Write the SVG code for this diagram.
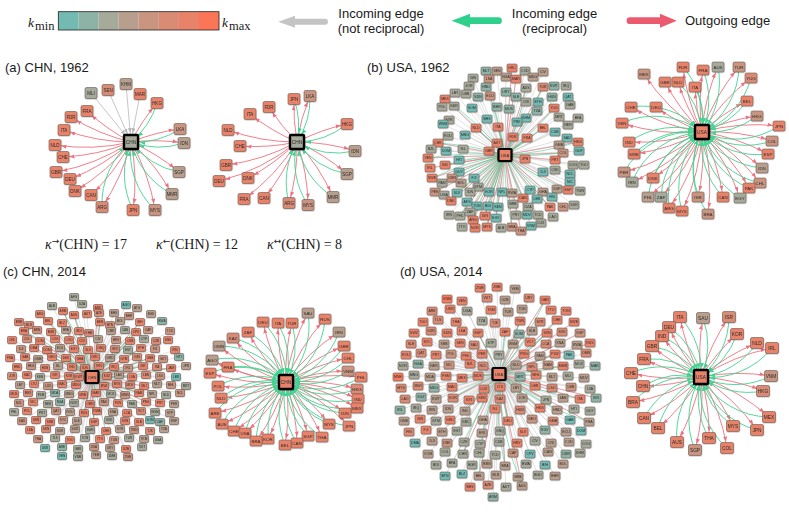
<svg xmlns="http://www.w3.org/2000/svg" width="789" height="524" viewBox="0 0 789 524">
<defs>
<style>
.sans{font-family:"Liberation Sans",Arial,sans-serif;fill:#1a1a1a;font-size:13px}
.math{font-family:"Liberation Serif","DejaVu Serif",serif;fill:#1a1a1a}
.arr{font-family:"DejaVu Sans","Noto Sans",sans-serif;font-size:9px}
.n rect{stroke:#5e4d47;stroke-width:.5px}
.n text{font-family:"Liberation Sans",Arial,sans-serif;text-anchor:middle;dominant-baseline:central;fill:#2a2a2a}
.S rect{x:-6px;y:-5.5px;width:12px;height:11px;rx:1.6px}
.S text{font-size:4.5px}
.M rect{x:-6px;y:-5px;width:12px;height:10px;rx:1.5px}
.M text{font-size:4.4px}
.L rect{x:-6.5px;y:-5.5px;width:13px;height:11px;rx:1.6px}
.L text{font-size:4.8px}
.H rect{x:-5px;y:-4px;width:10px;height:8px;rx:1.2px}
.H text{font-size:3.5px}
.T rect{x:-4.5px;y:-3.5px;width:9px;height:7px;rx:1px}
.T text{font-size:3.1px}
.n .C rect{x:-7px;y:-7px;width:14px;height:14px;rx:1px;stroke:#000;stroke-width:2.4px}
.n .C text{font-size:4.8px}
.H .C rect,.T .C rect{x:-6.5px;y:-6px;width:13px;height:12px;stroke-width:2.2px}
.H .C text,.T .C text{font-size:4px}
.k1 rect{fill:#72bab2}.k2 rect{fill:#8db3a6}.k3 rect{fill:#a6aa9a}.k4 rect{fill:#b89f8d}
.k5 rect{fill:#c99581}.k6 rect{fill:#d98b74}.k7 rect{fill:#e8836a}.k8 rect{fill:#f77a5a}
.ex{fill:none;stroke:#c0c0c0;stroke-width:.9px;marker-end:url(#mx)}
.ep{fill:none;stroke:#f0707f;stroke-width:.9px;marker-end:url(#mp)}
.eg{fill:none;stroke:#3fd492;stroke-width:.9px;marker-end:url(#mg)}
.hx{fill:none;stroke:#c2c2c2;stroke-width:.5px}
.hp{fill:none;stroke:#f27886;stroke-width:.6px}
.hg{fill:none;stroke:#40d293;stroke-width:.6px}
</style>
<marker id="mp" markerUnits="userSpaceOnUse" markerWidth="6" markerHeight="5" refX="11.5" refY="2" orient="auto"><path d="M0 0L5 2L0 4z" fill="#f0707f"/></marker>
<marker id="mg" markerUnits="userSpaceOnUse" markerWidth="6" markerHeight="5" refX="14" refY="2" orient="auto"><path d="M0 0L5 2L0 4z" fill="#3fd492"/></marker>
<marker id="mx" markerUnits="userSpaceOnUse" markerWidth="6" markerHeight="5" refX="14" refY="2" orient="auto"><path d="M0 0L5 2L0 4z" fill="#b8b8b8"/></marker>
<filter id="sh" x="-5%" y="-5%" width="110%" height="110%"><feDropShadow dx="0.3" dy="0.5" stdDeviation="0.5" flood-color="#000" flood-opacity="0.35"/></filter>
</defs>
<rect width="789" height="524" fill="#fff"/>

<g id="legend">
<text class="math" x="28" y="27.3" font-size="13.5" font-style="italic">k</text>
<text class="math" x="35" y="29.5" font-size="12.5">min</text>
<rect x="58.3" y="11.7" width="20.1" height="18.3" fill="#72bab2"/>
<rect x="78.4" y="11.7" width="20.1" height="18.3" fill="#8db3a6"/>
<rect x="98.5" y="11.7" width="20.1" height="18.3" fill="#a6aa9a"/>
<rect x="118.6" y="11.7" width="20.1" height="18.3" fill="#b89f8d"/>
<rect x="138.7" y="11.7" width="20.1" height="18.3" fill="#c99581"/>
<rect x="158.8" y="11.7" width="20.1" height="18.3" fill="#d98b74"/>
<rect x="178.9" y="11.7" width="20.1" height="18.3" fill="#e8836a"/>
<rect x="199" y="11.7" width="20" height="18.3" fill="#fb7656"/>
<rect x="58.3" y="11.7" width="160.7" height="18.3" fill="none" stroke="#222" stroke-width="0.8"/>
<text class="math" x="222" y="27.3" font-size="13.5" font-style="italic">k</text>
<text class="math" x="229" y="29.5" font-size="12.5">max</text>
<path d="M278.3 21.7L295 15.7V18.7H325A3 3 0 0 1 325 24.7H295V27.7Z" fill="#c4c4c4"/>
<text class="sans" x="381" y="17.5" text-anchor="middle">Incoming edge</text>
<text class="sans" x="381" y="32.5" text-anchor="middle">(not reciprocal)</text>
<path d="M451.7 20.7L470 13.7V17.3H498.5A3.4 3.4 0 0 1 498.5 24.1H470V27.7Z" fill="#2fcf8c"/>
<text class="sans" x="554.5" y="17.5" text-anchor="middle">Incoming edge</text>
<text class="sans" x="554.5" y="32.5" text-anchor="middle">(reciprocal)</text>
<path d="M676.7 20.7L660 13.7V17.3H630A3.4 3.4 0 0 0 630 24.1H660V27.7Z" fill="#ea5b70"/>
<text class="sans" x="685" y="25">Outgoing edge</text>
</g>

<g id="titles">
<text class="sans" x="5" y="72">(a) CHN, 1962</text>
<text class="sans" x="367" y="72">(b) USA, 1962</text>
<text class="sans" x="3" y="276">(c) CHN, 2014</text>
<text class="sans" x="400" y="276">(d) USA, 2014</text>
<text class="math" x="45" y="249" font-size="14"><tspan font-style="italic">κ</tspan><tspan class="arr" dy="-5.5">→</tspan><tspan dy="5.5">(CHN) = 17</tspan></text>
<text class="math" x="156" y="249" font-size="14"><tspan font-style="italic">κ</tspan><tspan class="arr" dy="-5.5">←</tspan><tspan dy="5.5">(CHN) = 12</tspan></text>
<text class="math" x="267" y="249" font-size="14"><tspan font-style="italic">κ</tspan><tspan class="arr" dy="-5.5">↔</tspan><tspan dy="5.5">(CHN) = 8</tspan></text>
</g>

<g id="connectors">
<g id="e-aL">
<path class="ex" d="M91 93L131 142"/><path class="ex" d="M108 90L131 142"/><path class="ex" d="M126 84L131 142"/><path class="ex" d="M140 94L131 142"/>
<path class="ep" d="M131 142A200 200 0 0 1 87 111"/><path class="ep" d="M131 142A200 200 0 0 1 71 117"/><path class="ep" d="M131 142A200 200 0 0 1 64 130"/><path class="ep" d="M131 142A200 200 0 0 1 55 145"/><path class="ep" d="M131 142A200 200 0 0 1 63 157"/><path class="ep" d="M131 142A200 200 0 0 1 56 172"/><path class="ep" d="M131 142A200 200 0 0 1 70 179"/><path class="ep" d="M131 142A200 200 0 0 1 75 191"/><path class="ep" d="M131 142A200 200 0 0 1 91 195"/><path class="ep" d="M131 142A200 200 0 0 1 102 207"/><path class="ep" d="M131 142A200 200 0 0 1 133 210"/><path class="ep" d="M131 142A200 200 0 0 1 155 210"/><path class="ep" d="M131 142A200 200 0 0 1 172 194"/><path class="ep" d="M131 142A200 200 0 0 1 179 172"/><path class="ep" d="M131 142A200 200 0 0 1 184 143"/><path class="ep" d="M131 142A200 200 0 0 1 180 129"/><path class="ep" d="M131 142A200 200 0 0 1 157 103"/>
<path class="eg" d="M157 103A80 80 0 0 1 131 142"/><path class="eg" d="M180 129A80 80 0 0 1 131 142"/><path class="eg" d="M184 143A80 80 0 0 1 131 142"/><path class="eg" d="M179 172A80 80 0 0 1 131 142"/><path class="eg" d="M172 194A80 80 0 0 1 131 142"/><path class="eg" d="M155 210A80 80 0 0 1 131 142"/><path class="eg" d="M133 210A80 80 0 0 1 131 142"/><path class="eg" d="M102 207A80 80 0 0 1 131 142"/>
</g>
<g id="e-aR">
<path class="ep" d="M297 142A200 200 0 0 1 294 99"/><path class="ep" d="M297 142A200 200 0 0 1 310 96"/><path class="ep" d="M297 142A200 200 0 0 1 269 107"/><path class="ep" d="M297 142A200 200 0 0 1 250 114"/><path class="ep" d="M297 142A200 200 0 0 1 347 124"/><path class="ep" d="M297 142A200 200 0 0 1 228 130"/><path class="ep" d="M297 142A200 200 0 0 1 240 146"/><path class="ep" d="M297 142A200 200 0 0 1 355 151"/><path class="ep" d="M297 142A200 200 0 0 1 226 165"/><path class="ep" d="M297 142A200 200 0 0 1 248 178"/><path class="ep" d="M297 142A200 200 0 0 1 219 181"/><path class="ep" d="M297 142A200 200 0 0 1 347 174"/><path class="ep" d="M297 142A200 200 0 0 1 244 199"/><path class="ep" d="M297 142A200 200 0 0 1 264 198"/><path class="ep" d="M297 142A200 200 0 0 1 289 203"/><path class="ep" d="M297 142A200 200 0 0 1 308 205"/><path class="ep" d="M297 142A200 200 0 0 1 333 197"/>
<path class="eg" d="M294 99A80 80 0 0 1 297 142"/><path class="eg" d="M310 96A80 80 0 0 1 297 142"/><path class="eg" d="M347 124A80 80 0 0 1 297 142"/><path class="eg" d="M355 151A80 80 0 0 1 297 142"/><path class="eg" d="M347 174A80 80 0 0 1 297 142"/><path class="eg" d="M333 197A80 80 0 0 1 297 142"/><path class="eg" d="M308 205A80 80 0 0 1 297 142"/><path class="eg" d="M289 203A80 80 0 0 1 297 142"/>
</g>
<g id="e-bR">
<path class="ep" d="M702 132A200 200 0 0 1 683 67"/><path class="ep" d="M702 132A200 200 0 0 1 703 70"/><path class="ep" d="M702 132A200 200 0 0 1 718 67"/><path class="ep" d="M702 132A200 200 0 0 1 739 67"/><path class="ep" d="M702 132A200 200 0 0 1 644 74"/><path class="ep" d="M702 132A200 200 0 0 1 751 78"/><path class="ep" d="M702 132A200 200 0 0 1 665 82"/><path class="ep" d="M702 132A200 200 0 0 1 678 82"/><path class="ep" d="M702 132A200 200 0 0 1 695 87"/><path class="ep" d="M702 132A200 200 0 0 1 747 101"/><path class="ep" d="M702 132A200 200 0 0 1 631 107"/><path class="ep" d="M702 132A200 200 0 0 1 656 107"/><path class="ep" d="M702 132A200 200 0 0 1 757 116"/><path class="ep" d="M702 132A200 200 0 0 1 622 123"/><path class="ep" d="M702 132A200 200 0 0 1 779 126"/><path class="ep" d="M702 132A200 200 0 0 1 772 141"/><path class="ep" d="M702 132A200 200 0 0 1 629 142"/><path class="ep" d="M702 132A200 200 0 0 1 634 154"/><path class="ep" d="M702 132A200 200 0 0 1 768 154"/><path class="ep" d="M702 132A200 200 0 0 1 762 168"/><path class="ep" d="M702 132A200 200 0 0 1 624 172"/><path class="ep" d="M702 132A200 200 0 0 1 653 178"/><path class="ep" d="M702 132A200 200 0 0 1 632 182"/><path class="ep" d="M702 132A200 200 0 0 1 760 183"/><path class="ep" d="M702 132A200 200 0 0 1 749 188"/><path class="ep" d="M702 132A200 200 0 0 1 648 197"/><path class="ep" d="M702 132A200 200 0 0 1 661 197"/><path class="ep" d="M702 132A200 200 0 0 1 698 197"/><path class="ep" d="M702 132A200 200 0 0 1 723 197"/><path class="ep" d="M702 132A200 200 0 0 1 740 198"/><path class="ep" d="M702 132A200 200 0 0 1 669 208"/><path class="ep" d="M702 132A200 200 0 0 1 682 211"/><path class="ep" d="M702 132A200 200 0 0 1 708 214"/>
<path class="eg" d="M683 67A80 80 0 0 1 702 132"/><path class="eg" d="M703 70A80 80 0 0 1 702 132"/><path class="eg" d="M718 67A80 80 0 0 1 702 132"/><path class="eg" d="M739 67A80 80 0 0 1 702 132"/><path class="eg" d="M751 78A80 80 0 0 1 702 132"/><path class="eg" d="M678 82A80 80 0 0 1 702 132"/><path class="eg" d="M695 87A80 80 0 0 1 702 132"/><path class="eg" d="M747 101A80 80 0 0 1 702 132"/><path class="eg" d="M631 107A80 80 0 0 1 702 132"/><path class="eg" d="M757 116A80 80 0 0 1 702 132"/><path class="eg" d="M622 123A80 80 0 0 1 702 132"/><path class="eg" d="M779 126A80 80 0 0 1 702 132"/><path class="eg" d="M772 141A80 80 0 0 1 702 132"/><path class="eg" d="M629 142A80 80 0 0 1 702 132"/><path class="eg" d="M634 154A80 80 0 0 1 702 132"/><path class="eg" d="M768 154A80 80 0 0 1 702 132"/><path class="eg" d="M762 168A80 80 0 0 1 702 132"/><path class="eg" d="M624 172A80 80 0 0 1 702 132"/><path class="eg" d="M653 178A80 80 0 0 1 702 132"/><path class="eg" d="M632 182A80 80 0 0 1 702 132"/><path class="eg" d="M760 183A80 80 0 0 1 702 132"/><path class="eg" d="M749 188A80 80 0 0 1 702 132"/><path class="eg" d="M648 197A80 80 0 0 1 702 132"/><path class="eg" d="M661 197A80 80 0 0 1 702 132"/><path class="eg" d="M698 197A80 80 0 0 1 702 132"/><path class="eg" d="M723 197A80 80 0 0 1 702 132"/><path class="eg" d="M740 198A80 80 0 0 1 702 132"/><path class="eg" d="M669 208A80 80 0 0 1 702 132"/><path class="eg" d="M682 211A80 80 0 0 1 702 132"/><path class="eg" d="M708 214A80 80 0 0 1 702 132"/>
</g>
<g id="e-cR">
<path class="ep" d="M286 382A200 200 0 0 1 308 313"/><path class="ep" d="M286 382A200 200 0 0 1 263 322"/><path class="ep" d="M286 382A200 200 0 0 1 278 323"/><path class="ep" d="M286 382A200 200 0 0 1 292 323"/><path class="ep" d="M286 382A200 200 0 0 1 325 319"/><path class="ep" d="M286 382A200 200 0 0 1 248 332"/><path class="ep" d="M286 382A200 200 0 0 1 339 332"/><path class="ep" d="M286 382A200 200 0 0 1 233 338"/><path class="ep" d="M286 382A200 200 0 0 1 219 346"/><path class="ep" d="M286 382A200 200 0 0 1 344 346"/><path class="ep" d="M286 382A200 200 0 0 1 212 360"/><path class="ep" d="M286 382A200 200 0 0 1 228 367"/><path class="ep" d="M286 382A200 200 0 0 1 348 358"/><path class="ep" d="M286 382A200 200 0 0 1 210 373"/><path class="ep" d="M286 382A200 200 0 0 1 348 371"/><path class="ep" d="M286 382A200 200 0 0 1 361 377"/><path class="ep" d="M286 382A200 200 0 0 1 218 386"/><path class="ep" d="M286 382A200 200 0 0 1 357 389"/><path class="ep" d="M286 382A200 200 0 0 1 221 398"/><path class="ep" d="M286 382A200 200 0 0 1 358 399"/><path class="ep" d="M286 382A200 200 0 0 1 357 408"/><path class="ep" d="M286 382A200 200 0 0 1 215 413"/><path class="ep" d="M286 382A200 200 0 0 1 345 413"/><path class="ep" d="M286 382A200 200 0 0 1 222 424"/><path class="ep" d="M286 382A200 200 0 0 1 329 424"/><path class="ep" d="M286 382A200 200 0 0 1 349 426"/><path class="ep" d="M286 382A200 200 0 0 1 234 431"/><path class="ep" d="M286 382A200 200 0 0 1 245 433"/><path class="ep" d="M286 382A200 200 0 0 1 322 437"/><path class="ep" d="M286 382A200 200 0 0 1 268 439"/><path class="ep" d="M286 382A200 200 0 0 1 256 441"/><path class="ep" d="M286 382A200 200 0 0 1 308 436"/><path class="ep" d="M286 382A200 200 0 0 1 297 443"/><path class="ep" d="M286 382A200 200 0 0 1 285 445"/>
<path class="eg" d="M308 313A80 80 0 0 1 286 382"/><path class="eg" d="M263 322A80 80 0 0 1 286 382"/><path class="eg" d="M278 323A80 80 0 0 1 286 382"/><path class="eg" d="M292 323A80 80 0 0 1 286 382"/><path class="eg" d="M325 319A80 80 0 0 1 286 382"/><path class="eg" d="M248 332A80 80 0 0 1 286 382"/><path class="eg" d="M339 332A80 80 0 0 1 286 382"/><path class="eg" d="M233 338A80 80 0 0 1 286 382"/><path class="eg" d="M219 346A80 80 0 0 1 286 382"/><path class="eg" d="M344 346A80 80 0 0 1 286 382"/><path class="eg" d="M212 360A80 80 0 0 1 286 382"/><path class="eg" d="M228 367A80 80 0 0 1 286 382"/><path class="eg" d="M348 358A80 80 0 0 1 286 382"/><path class="eg" d="M210 373A80 80 0 0 1 286 382"/><path class="eg" d="M348 371A80 80 0 0 1 286 382"/><path class="eg" d="M361 377A80 80 0 0 1 286 382"/><path class="eg" d="M218 386A80 80 0 0 1 286 382"/><path class="eg" d="M357 389A80 80 0 0 1 286 382"/><path class="eg" d="M221 398A80 80 0 0 1 286 382"/><path class="eg" d="M358 399A80 80 0 0 1 286 382"/><path class="eg" d="M357 408A80 80 0 0 1 286 382"/><path class="eg" d="M215 413A80 80 0 0 1 286 382"/><path class="eg" d="M345 413A80 80 0 0 1 286 382"/><path class="eg" d="M222 424A80 80 0 0 1 286 382"/><path class="eg" d="M329 424A80 80 0 0 1 286 382"/><path class="eg" d="M349 426A80 80 0 0 1 286 382"/><path class="eg" d="M234 431A80 80 0 0 1 286 382"/><path class="eg" d="M245 433A80 80 0 0 1 286 382"/><path class="eg" d="M322 437A80 80 0 0 1 286 382"/><path class="eg" d="M268 439A80 80 0 0 1 286 382"/><path class="eg" d="M256 441A80 80 0 0 1 286 382"/><path class="eg" d="M308 436A80 80 0 0 1 286 382"/><path class="eg" d="M297 443A80 80 0 0 1 286 382"/><path class="eg" d="M285 445A80 80 0 0 1 286 382"/>
</g>
<g id="e-dR">
<path class="ep" d="M701 377A200 200 0 0 1 680 317"/><path class="ep" d="M701 377A200 200 0 0 1 703 318"/><path class="ep" d="M701 377A200 200 0 0 1 729 317"/><path class="ep" d="M701 377A200 200 0 0 1 669 327"/><path class="ep" d="M701 377A200 200 0 0 1 662 336"/><path class="ep" d="M701 377A200 200 0 0 1 737 334"/><path class="ep" d="M701 377A200 200 0 0 1 757 343"/><path class="ep" d="M701 377A200 200 0 0 1 652 346"/><path class="ep" d="M701 377A200 200 0 0 1 772 348"/><path class="ep" d="M701 377A200 200 0 0 1 644 359"/><path class="ep" d="M701 377A200 200 0 0 1 631 373"/><path class="ep" d="M701 377A200 200 0 0 1 771 376"/><path class="ep" d="M701 377A200 200 0 0 1 643 386"/><path class="ep" d="M701 377A200 200 0 0 1 763 391"/><path class="ep" d="M701 377A200 200 0 0 1 633 402"/><path class="ep" d="M701 377A200 200 0 0 1 769 417"/><path class="ep" d="M701 377A200 200 0 0 1 644 418"/><path class="ep" d="M701 377A200 200 0 0 1 658 428"/><path class="ep" d="M701 377A200 200 0 0 1 733 426"/><path class="ep" d="M701 377A200 200 0 0 1 757 430"/><path class="ep" d="M701 377A200 200 0 0 1 677 442"/><path class="ep" d="M701 377A200 200 0 0 1 709 438"/><path class="ep" d="M701 377A200 200 0 0 1 695 450"/><path class="ep" d="M701 377A200 200 0 0 1 727 448"/>
<path class="eg" d="M680 317A80 80 0 0 1 701 377"/><path class="eg" d="M703 318A80 80 0 0 1 701 377"/><path class="eg" d="M729 317A80 80 0 0 1 701 377"/><path class="eg" d="M669 327A80 80 0 0 1 701 377"/><path class="eg" d="M662 336A80 80 0 0 1 701 377"/><path class="eg" d="M737 334A80 80 0 0 1 701 377"/><path class="eg" d="M757 343A80 80 0 0 1 701 377"/><path class="eg" d="M652 346A80 80 0 0 1 701 377"/><path class="eg" d="M772 348A80 80 0 0 1 701 377"/><path class="eg" d="M644 359A80 80 0 0 1 701 377"/><path class="eg" d="M631 373A80 80 0 0 1 701 377"/><path class="eg" d="M771 376A80 80 0 0 1 701 377"/><path class="eg" d="M643 386A80 80 0 0 1 701 377"/><path class="eg" d="M763 391A80 80 0 0 1 701 377"/><path class="eg" d="M633 402A80 80 0 0 1 701 377"/><path class="eg" d="M769 417A80 80 0 0 1 701 377"/><path class="eg" d="M644 418A80 80 0 0 1 701 377"/><path class="eg" d="M658 428A80 80 0 0 1 701 377"/><path class="eg" d="M733 426A80 80 0 0 1 701 377"/><path class="eg" d="M757 430A80 80 0 0 1 701 377"/><path class="eg" d="M677 442A80 80 0 0 1 701 377"/><path class="eg" d="M709 438A80 80 0 0 1 701 377"/><path class="eg" d="M695 450A80 80 0 0 1 701 377"/><path class="eg" d="M727 448A80 80 0 0 1 701 377"/>
</g>
<g id="e-bL">
<path class="hx" d="M486 71L505 155M497 71L505 155M512 68L505 155M525 71L505 155M543 72L505 155M473 78L505 155M489 79L505 155M506 77L505 155M516 79L505 155M533 77L505 155M469 86L505 155M486 87L505 155M466 94L505 155M478 97L505 155M490 96L505 155M526 88L505 155M543 87L505 155M554 86L505 155M566 86L505 155M455 93L505 155M506 92L505 155M516 97L505 155M552 97L505 155M568 97L505 155M445 99L505 155M442 107L505 155M454 106L505 155M526 102L505 155M538 102L505 155M570 105L505 155M472 108L505 155M497 107L505 155M509 109L505 155M554 108L505 155M537 111L505 155M526 118L505 155M559 117L505 155M578 118L505 155M449 120L505 155M517 122L505 155M487 119L505 155M568 125L505 155M443 124L505 155M498 127L505 155M476 128L505 155M543 128L505 155M555 132L505 155M465 135L505 155M448 136L505 155M513 137L505 155M527 138L505 155M567 138L505 155M578 142L505 155M438 143L505 155M497 143L505 155M559 145L505 155M431 149L505 155M446 151L505 155M463 149L505 155M579 151L505 155M489 151L505 155M563 153L505 155M428 158L505 155M459 160L505 155M525 159L505 155M555 160L505 155M430 168L505 155M445 165L505 155M573 165L505 155M584 165L505 155M459 172L505 155M543 172L505 155M555 170L505 155M570 174L505 155M432 178L505 155M442 183L505 155M452 178L505 155M461 183L505 155M474 178L505 155M478 187L505 155M570 182L505 155M435 192L505 155M444 195L505 155M457 193L505 155M470 192L505 155M489 192L505 155M502 192L505 155M512 193L505 155M530 190L505 155M543 192L505 155M557 189L505 155M568 190L505 155M580 191L505 155M451 201L505 155M467 202L505 155M477 206L505 155M488 206L505 155M498 207L505 155M513 204L505 155M523 198L505 155M537 199L505 155M552 197L505 155M528 207L505 155M550 207L505 155M563 207L505 155M574 205L505 155M449 215L505 155M460 216L505 155M470 212L505 155M473 220L505 155M485 216L505 155M496 218L505 155M516 215L505 155M527 215L505 155M538 215L505 155M553 217L505 155M541 223L505 155M462 227L505 155M475 228L505 155M487 227L505 155M501 228L505 155M512 227L505 155M521 231L505 155M531 226L505 155"/>
<path class="hp" d="M505 155L512 68M505 155L516 79M505 155L543 87M505 155L445 99M505 155L554 108M505 155L498 127M505 155L476 128M505 155L543 128M505 155L513 137M505 155L527 138M505 155L578 142M505 155L438 143M505 155L497 143M505 155L489 151M505 155L428 158M505 155L525 159M505 155L555 160M505 155L430 168M505 155L445 165M505 155L432 178M505 155L451 201M505 155L523 198M505 155L550 207M505 155L568 190M505 155L473 220M505 155L485 216M505 155L475 228M505 155L487 227M505 155L435 192M505 155L563 207M505 155L563 153M505 155L521 231M505 155L512 227M505 155L526 88M505 155L470 212M505 155L496 218M505 155L460 216M505 155L470 192"/>
<path class="hg" d="M445 99A300 300 0 0 1 505 155M498 127A300 300 0 0 1 505 155M476 128A300 300 0 0 1 505 155M543 128A300 300 0 0 1 505 155M513 137A300 300 0 0 1 505 155M527 138A300 300 0 0 1 505 155M578 142A300 300 0 0 1 505 155M438 143A300 300 0 0 1 505 155M489 151A300 300 0 0 1 505 155M428 158A300 300 0 0 1 505 155M525 159A300 300 0 0 1 505 155M445 165A300 300 0 0 1 505 155M432 178A300 300 0 0 1 505 155M451 201A300 300 0 0 1 505 155M523 198A300 300 0 0 1 505 155M550 207A300 300 0 0 1 505 155M568 190A300 300 0 0 1 505 155M473 220A300 300 0 0 1 505 155M485 216A300 300 0 0 1 505 155M487 227A300 300 0 0 1 505 155M435 192A300 300 0 0 1 505 155M563 207A300 300 0 0 1 505 155M563 153A300 300 0 0 1 505 155M512 227A300 300 0 0 1 505 155M526 88A300 300 0 0 1 505 155M470 212A300 300 0 0 1 505 155M496 218A300 300 0 0 1 505 155M460 216A300 300 0 0 1 505 155M470 192A300 300 0 0 1 505 155M543 87A300 300 0 0 1 505 155M554 108A300 300 0 0 1 505 155M489 192A300 300 0 0 1 505 155M457 193A300 300 0 0 1 505 155M486 87A300 300 0 0 1 505 155M459 172A300 300 0 0 1 505 155"/>
</g>
<g id="e-cL">
<path class="hx" d="M74 297L92 377M52 306L92 377M82 304L92 377M98 308L92 377M126 305L92 377M137 308L92 377M40 314L92 377M63 311L92 377M74 315L92 377M87 314L92 377M99 313L92 377M114 313L92 377M129 316L92 377M151 314L92 377M19 322L92 377M29 325L92 377M48 321L92 377M62 323L92 377M100 322L92 377M110 325L92 377M120 321L92 377M140 322L92 377M162 321L92 377M24 331L92 377M37 330L92 377M51 332L92 377M66 330L92 377M79 331L92 377M89 333L92 377M111 331L92 377M125 330L92 377M136 332L92 377M148 330L92 377M170 331L92 377M12 340L92 377M27 339L92 377M40 341L92 377M55 339L92 377M69 340L92 377M82 341L92 377M98 339L92 377M116 340L92 377M130 341L92 377M144 339L92 377M156 341L92 377M168 340L92 377M21 349L92 377M34 348L92 377M47 350L92 377M60 348L92 377M74 349L92 377M88 350L92 377M101 348L92 377M115 349L92 377M128 350L92 377M141 348L92 377M155 349L92 377M175 350L92 377M10 358L92 377M25 357L92 377M38 359L92 377M52 357L92 377M66 358L92 377M80 359L92 377M95 357L92 377M110 358L92 377M124 359L92 377M137 357L92 377M150 358L92 377M163 359L92 377M179 357L92 377M17 367L92 377M31 366L92 377M45 368L92 377M58 366L92 377M72 367L92 377M85 368L92 377M99 366L92 377M114 367L92 377M128 368L92 377M143 366L92 377M157 367L92 377M171 368L92 377M186 366L92 377M12 376L92 377M27 375L92 377M40 377L92 377M55 375L92 377M69 376L92 377M79 377L92 377M107 376L92 377M119 375L92 377M132 377L92 377M146 375L92 377M160 376L92 377M176 377L92 377M20 385L92 377M34 384L92 377M48 386L92 377M62 384L92 377M76 385L92 377M104 386L92 377M117 384L92 377M130 385L92 377M144 386L92 377M157 384L92 377M171 385L92 377M186 386L92 377M14 394L92 377M28 393L92 377M41 395L92 377M55 393L92 377M69 394L92 377M83 395L92 377M96 393L92 377M111 394L92 377M125 395L92 377M139 393L92 377M152 394L92 377M166 395L92 377M180 393L92 377M19 403L92 377M33 402L92 377M48 404L92 377M60 402L92 377M74 403L92 377M90 404L92 377M104 402L92 377M118 403L92 377M132 404L92 377M146 402L92 377M160 403L92 377M174 404L92 377M14 412L92 377M27 411L92 377M42 413L92 377M56 411L92 377M70 412L92 377M84 413L92 377M97 411L92 377M113 412L92 377M127 413L92 377M141 411L92 377M155 412L92 377M170 413L92 377M22 421L92 377M36 420L92 377M50 422L92 377M63 420L92 377M77 421L92 377M94 422L92 377M109 420L92 377M125 421L92 377M139 422L92 377M150 420L92 377M160 422L92 377M174 421L92 377M30 430L92 377M46 429L92 377M60 431L92 377M75 429L92 377M90 430L92 377M106 431L92 377M120 429L92 377M134 430L92 377M150 431L92 377M164 429L92 377M38 439L92 377M55 438L92 377M70 440L92 377M85 438L92 377M100 439L92 377M114 440L92 377M129 438L92 377M144 439L92 377M158 440L92 377M45 448L92 377M62 447L92 377M78 449L92 377M94 447L92 377M110 448L92 377M126 449L92 377M142 447L92 377M62 456L92 377M78 457L92 377M96 455L92 377M112 456L92 377M128 457L92 377"/>
<path class="hp" d="M92 377L62 323M92 377L63 311M92 377L48 321M92 377L24 331M92 377L51 332M92 377L55 339M92 377L40 341M92 377L34 348M92 377L47 350M92 377L52 357M92 377L74 315M92 377L98 308M92 377L100 322M92 377L140 322M92 377L136 332M92 377L130 341M92 377L141 348M92 377L124 359M92 377L150 358M92 377L143 366M92 377L171 368M92 377L132 377M92 377L144 386M92 377L139 393M92 377L146 402M92 377L84 413M92 377L94 422M92 377L83 395M92 377L69 376M92 377L66 358M92 377L72 367M92 377L96 393M92 377L90 404"/>
<path class="hg" d="M62 323A300 300 0 0 1 92 377M63 311A300 300 0 0 1 92 377M48 321A300 300 0 0 1 92 377M24 331A300 300 0 0 1 92 377M55 339A300 300 0 0 1 92 377M47 350A300 300 0 0 1 92 377M52 357A300 300 0 0 1 92 377M74 315A300 300 0 0 1 92 377M100 322A300 300 0 0 1 92 377M140 322A300 300 0 0 1 92 377M136 332A300 300 0 0 1 92 377M141 348A300 300 0 0 1 92 377M150 358A300 300 0 0 1 92 377M143 366A300 300 0 0 1 92 377M171 368A300 300 0 0 1 92 377M132 377A300 300 0 0 1 92 377M139 393A300 300 0 0 1 92 377M130 341A300 300 0 0 1 92 377M84 413A300 300 0 0 1 92 377M94 422A300 300 0 0 1 92 377M69 376A300 300 0 0 1 92 377M72 367A300 300 0 0 1 92 377M96 393A300 300 0 0 1 92 377M66 358A300 300 0 0 1 92 377"/>
</g>
<g id="e-dL">
<path class="hx" d="M480 288L499 374M497 287L499 374M515 289L499 374M447 299L499 374M462 301L499 374M487 298L499 374M505 300L499 374M529 298L499 374M545 300L499 374M432 311L499 374M450 309L499 374M467 311L499 374M491 310L499 374M508 312L499 374M522 309L499 374M551 310L499 374M566 311L499 374M423 322L499 374M438 320L499 374M456 322L499 374M482 321L499 374M495 323L499 374M520 321L499 374M540 322L499 374M557 320L499 374M574 322L499 374M414 333L499 374M431 331L499 374M447 333L499 374M462 331L499 374M478 333L499 374M505 332L499 374M519 334L499 374M532 331L499 374M547 333L499 374M562 332L499 374M580 333L499 374M411 344L499 374M427 342L499 374M444 344L499 374M460 343L499 374M474 345L499 374M491 343L499 374M513 344L499 374M530 342L499 374M546 344L499 374M560 343L499 374M577 345L499 374M590 343L499 374M406 355L499 374M421 353L499 374M436 355L499 374M451 354L499 374M466 356L499 374M482 354L499 374M499 355L499 374M524 354L499 374M540 356L499 374M555 354L499 374M569 355L499 374M586 353L499 374M403 366L499 374M418 364L499 374M434 366L499 374M449 365L499 374M470 364L499 374M483 366L499 374M516 365L499 374M532 367L499 374M548 365L499 374M563 366L499 374M579 364L499 374M595 366L499 374M398 377L499 374M414 375L499 374M430 377L499 374M446 376L499 374M462 378L499 374M478 376L499 374M520 377L499 374M536 375L499 374M552 377L499 374M568 376L499 374M584 378L499 374M401 388L499 374M418 386L499 374M434 388L499 374M452 387L499 374M484 389L499 374M500 387L499 374M516 388L499 374M535 386L499 374M552 388L499 374M571 387L499 374M590 389L499 374M405 399L499 374M421 397L499 374M436 399L499 374M453 398L499 374M469 400L499 374M482 398L499 374M500 399L499 374M522 398L499 374M546 400L499 374M563 398L499 374M580 399L499 374M596 398L499 374M400 410L499 374M416 408L499 374M432 410L499 374M448 409L499 374M465 411L499 374M495 409L499 374M520 410L499 374M540 408L499 374M557 410L499 374M574 409L499 374M590 411L499 374M404 421L499 374M420 419L499 374M436 421L499 374M450 420L499 374M466 422L499 374M483 420L499 374M508 421L499 374M532 419L499 374M553 421L499 374M570 420L499 374M589 422L499 374M409 432L499 374M426 430L499 374M442 432L499 374M457 431L499 374M482 433L499 374M500 431L499 374M523 432L499 374M545 430L499 374M566 432L499 374M581 431L499 374M415 443L499 374M432 441L499 374M447 443L499 374M464 442L499 374M480 444L499 374M499 442L499 374M517 443L499 374M535 441L499 374M551 443L499 374M569 442L499 374M586 444L499 374M428 454L499 374M445 452L499 374M463 454L499 374M479 453L499 374M495 455L499 374M513 453L499 374M530 454L499 374M548 452L499 374M566 454L499 374M580 453L499 374M436 465L499 374M452 463L499 374M472 465L499 374M487 464L499 374M505 466L499 374M526 464L499 374M545 465L499 374M563 464L499 374M445 476L499 374M462 474L499 374M479 476L499 374M496 475L499 374M518 477L499 374M538 475L499 374M555 476L499 374M470 487L499 374M488 485L499 374M506 487L499 374M522 486L499 374M493 497L499 374"/>
<path class="hp" d="M499 374L545 300M499 374L557 320M499 374L574 322M499 374L547 333M499 374L590 343M499 374L555 354M499 374L563 366M499 374L580 399M499 374L596 398M499 374L540 408M499 374L508 421M499 374L546 400M499 374L453 398M499 374L462 378M499 374L516 365M499 374L589 422M499 374L465 411M499 374L580 333M499 374L463 454M499 374L505 466M499 374L479 476M499 374L522 486M499 374L520 321M499 374L478 333M499 374L466 356"/>
<path class="hg" d="M545 300A300 300 0 0 1 499 374M557 320A300 300 0 0 1 499 374M547 333A300 300 0 0 1 499 374M555 354A300 300 0 0 1 499 374M563 366A300 300 0 0 1 499 374M580 399A300 300 0 0 1 499 374M540 408A300 300 0 0 1 499 374M508 421A300 300 0 0 1 499 374M546 400A300 300 0 0 1 499 374M453 398A300 300 0 0 1 499 374M462 378A300 300 0 0 1 499 374M516 365A300 300 0 0 1 499 374M589 422A300 300 0 0 1 499 374M465 411A300 300 0 0 1 499 374M463 454A300 300 0 0 1 499 374M505 466A300 300 0 0 1 499 374M479 476A300 300 0 0 1 499 374M522 486A300 300 0 0 1 499 374M520 321A300 300 0 0 1 499 374M478 333A300 300 0 0 1 499 374M505 332A300 300 0 0 1 499 374"/>
</g>
</g>

<g id="nodes-aL" class="n S" filter="url(#sh)">
<g id="aL-MLI" class="k3" transform="translate(91,93)"><rect/><text>MLI</text></g>
<g id="aL-SEN" class="k6" transform="translate(108,90)"><rect/><text>SEN</text></g>
<g id="aL-KHM" class="k4" transform="translate(126,84)"><rect/><text>KHM</text></g>
<g id="aL-MAR" class="k7" transform="translate(140,94)"><rect/><text>MAR</text></g>
<g id="aL-HKG" class="k7" transform="translate(157,103)"><rect/><text>HKG</text></g>
<g id="aL-FRA" class="k7" transform="translate(87,111)"><rect/><text>FRA</text></g>
<g id="aL-FDR" class="k7" transform="translate(71,117)"><rect/><text>FDR</text></g>
<g id="aL-ITA" class="k7" transform="translate(64,130)"><rect/><text>ITA</text></g>
<g id="aL-LKA" class="k5" transform="translate(180,129)"><rect/><text>LKA</text></g>
<g id="aL-IDN" class="k4" transform="translate(184,143)"><rect/><text>IDN</text></g>
<g id="aL-NLD" class="k7" transform="translate(55,145)"><rect/><text>NLD</text></g>
<g id="aL-CHE" class="k7" transform="translate(63,157)"><rect/><text>CHE</text></g>
<g id="aL-GBR" class="k7" transform="translate(56,172)"><rect/><text>GBR</text></g>
<g id="aL-DEU" class="k7" transform="translate(70,179)"><rect/><text>DEU</text></g>
<g id="aL-SGP" class="k4" transform="translate(179,172)"><rect/><text>SGP</text></g>
<g id="aL-DNK" class="k7" transform="translate(75,191)"><rect/><text>DNK</text></g>
<g id="aL-CAN" class="k7" transform="translate(91,195)"><rect/><text>CAN</text></g>
<g id="aL-MMR" class="k4" transform="translate(172,194)"><rect/><text>MMR</text></g>
<g id="aL-ARG" class="k6" transform="translate(102,207)"><rect/><text>ARG</text></g>
<g id="aL-JPN" class="k7" transform="translate(133,210)"><rect/><text>JPN</text></g>
<g id="aL-MYS" class="k5" transform="translate(155,210)"><rect/><text>MYS</text></g>
<g id="aL-CHN" class="k3 C" transform="translate(131,142)"><rect/><text>CHN</text></g>
</g>

<g id="nodes-aR" class="n S" filter="url(#sh)">
<g id="aR-JPN" class="k7" transform="translate(294,99)"><rect/><text>JPN</text></g>
<g id="aR-LKA" class="k5" transform="translate(310,96)"><rect/><text>LKA</text></g>
<g id="aR-FDR" class="k7" transform="translate(269,107)"><rect/><text>FDR</text></g>
<g id="aR-ITA" class="k7" transform="translate(250,114)"><rect/><text>ITA</text></g>
<g id="aR-HKG" class="k7" transform="translate(347,124)"><rect/><text>HKG</text></g>
<g id="aR-NLD" class="k7" transform="translate(228,130)"><rect/><text>NLD</text></g>
<g id="aR-CHE" class="k7" transform="translate(240,146)"><rect/><text>CHE</text></g>
<g id="aR-IDN" class="k4" transform="translate(355,151)"><rect/><text>IDN</text></g>
<g id="aR-GBR" class="k7" transform="translate(226,165)"><rect/><text>GBR</text></g>
<g id="aR-DNK" class="k7" transform="translate(248,178)"><rect/><text>DNK</text></g>
<g id="aR-DEU" class="k7" transform="translate(219,181)"><rect/><text>DEU</text></g>
<g id="aR-SGP" class="k4" transform="translate(347,174)"><rect/><text>SGP</text></g>
<g id="aR-FRA" class="k7" transform="translate(244,199)"><rect/><text>FRA</text></g>
<g id="aR-CAN" class="k7" transform="translate(264,198)"><rect/><text>CAN</text></g>
<g id="aR-ARG" class="k6" transform="translate(289,203)"><rect/><text>ARG</text></g>
<g id="aR-MYS" class="k5" transform="translate(308,205)"><rect/><text>MYS</text></g>
<g id="aR-MMR" class="k4" transform="translate(333,197)"><rect/><text>MMR</text></g>
<g id="aR-CHN" class="k3 C" transform="translate(297,142)"><rect/><text>CHN</text></g>
</g>

<g id="nodes-bR" class="n M" filter="url(#sh)">
<g id="bR-FDR" class="k7" transform="translate(683,67)"><rect/><text>FDR</text></g>
<g id="bR-FRA" class="k7" transform="translate(703,70)"><rect/><text>FRA</text></g>
<g id="bR-AUS" class="k3" transform="translate(718,67)"><rect/><text>AUS</text></g>
<g id="bR-TUR" class="k5" transform="translate(739,67)"><rect/><text>TUR</text></g>
<g id="bR-MEX" class="k5" transform="translate(644,74)"><rect/><text>MEX</text></g>
<g id="bR-YUG" class="k6" transform="translate(751,78)"><rect/><text>YUG</text></g>
<g id="bR-GBR" class="k7" transform="translate(665,82)"><rect/><text>GBR</text></g>
<g id="bR-NLD" class="k7" transform="translate(678,82)"><rect/><text>NLD</text></g>
<g id="bR-ITA" class="k7" transform="translate(695,87)"><rect/><text>ITA</text></g>
<g id="bR-BEL" class="k7" transform="translate(747,101)"><rect/><text>BEL</text></g>
<g id="bR-CHE" class="k7" transform="translate(631,107)"><rect/><text>CHE</text></g>
<g id="bR-DEU" class="k7" transform="translate(656,107)"><rect/><text>DEU</text></g>
<g id="bR-HKG" class="k5" transform="translate(757,116)"><rect/><text>HKG</text></g>
<g id="bR-VEN" class="k7" transform="translate(622,123)"><rect/><text>VEN</text></g>
<g id="bR-JPN" class="k7" transform="translate(779,126)"><rect/><text>JPN</text></g>
<g id="bR-COL" class="k5" transform="translate(772,141)"><rect/><text>COL</text></g>
<g id="bR-IND" class="k7" transform="translate(629,142)"><rect/><text>IND</text></g>
<g id="bR-SWE" class="k7" transform="translate(634,154)"><rect/><text>SWE</text></g>
<g id="bR-ESP" class="k7" transform="translate(768,154)"><rect/><text>ESP</text></g>
<g id="bR-IDN" class="k4" transform="translate(762,168)"><rect/><text>IDN</text></g>
<g id="bR-PER" class="k5" transform="translate(624,172)"><rect/><text>PER</text></g>
<g id="bR-DNK" class="k7" transform="translate(653,178)"><rect/><text>DNK</text></g>
<g id="bR-IRN" class="k3" transform="translate(632,182)"><rect/><text>IRN</text></g>
<g id="bR-CHL" class="k5" transform="translate(760,183)"><rect/><text>CHL</text></g>
<g id="bR-PAK" class="k7" transform="translate(749,188)"><rect/><text>PAK</text></g>
<g id="bR-PHL" class="k4" transform="translate(648,197)"><rect/><text>PHL</text></g>
<g id="bR-ZAF" class="k3" transform="translate(661,197)"><rect/><text>ZAF</text></g>
<g id="bR-ISR" class="k5" transform="translate(698,197)"><rect/><text>ISR</text></g>
<g id="bR-CAN" class="k7" transform="translate(723,197)"><rect/><text>CAN</text></g>
<g id="bR-EGY" class="k3" transform="translate(740,198)"><rect/><text>EGY</text></g>
<g id="bR-ARG" class="k7" transform="translate(669,208)"><rect/><text>ARG</text></g>
<g id="bR-MYS" class="k7" transform="translate(682,211)"><rect/><text>MYS</text></g>
<g id="bR-BRA" class="k5" transform="translate(708,214)"><rect/><text>BRA</text></g>
<g id="bR-USA" class="k7 C" transform="translate(702,132)"><rect/><text>USA</text></g>
</g>

<g id="nodes-cR" class="n M" filter="url(#sh)">
<g id="cR-SAU" class="k4" transform="translate(308,313)"><rect/><text>SAU</text></g>
<g id="cR-DEU" class="k7" transform="translate(263,322)"><rect/><text>DEU</text></g>
<g id="cR-ITA" class="k7" transform="translate(278,323)"><rect/><text>ITA</text></g>
<g id="cR-TUR" class="k7" transform="translate(292,323)"><rect/><text>TUR</text></g>
<g id="cR-RUS" class="k7" transform="translate(325,319)"><rect/><text>RUS</text></g>
<g id="cR-ZAF" class="k7" transform="translate(248,332)"><rect/><text>ZAF</text></g>
<g id="cR-IRN" class="k4" transform="translate(339,332)"><rect/><text>IRN</text></g>
<g id="cR-KAZ" class="k6" transform="translate(233,338)"><rect/><text>KAZ</text></g>
<g id="cR-OMN" class="k4" transform="translate(219,346)"><rect/><text>OMN</text></g>
<g id="cR-GBR" class="k7" transform="translate(344,346)"><rect/><text>GBR</text></g>
<g id="cR-AGO" class="k4" transform="translate(212,360)"><rect/><text>AGO</text></g>
<g id="cR-FRA" class="k7" transform="translate(228,367)"><rect/><text>FRA</text></g>
<g id="cR-CHL" class="k7" transform="translate(348,358)"><rect/><text>CHL</text></g>
<g id="cR-ESP" class="k7" transform="translate(210,373)"><rect/><text>ESP</text></g>
<g id="cR-VNM" class="k5" transform="translate(348,371)"><rect/><text>VNM</text></g>
<g id="cR-PHL" class="k7" transform="translate(361,377)"><rect/><text>PHL</text></g>
<g id="cR-POL" class="k7" transform="translate(218,386)"><rect/><text>POL</text></g>
<g id="cR-HKG" class="k6" transform="translate(357,389)"><rect/><text>HKG</text></g>
<g id="cR-NLD" class="k7" transform="translate(221,398)"><rect/><text>NLD</text></g>
<g id="cR-IND" class="k7" transform="translate(358,399)"><rect/><text>IND</text></g>
<g id="cR-MEX" class="k7" transform="translate(357,408)"><rect/><text>MEX</text></g>
<g id="cR-ARE" class="k7" transform="translate(215,413)"><rect/><text>ARE</text></g>
<g id="cR-IDN" class="k7" transform="translate(345,413)"><rect/><text>IDN</text></g>
<g id="cR-AUS" class="k7" transform="translate(222,424)"><rect/><text>AUS</text></g>
<g id="cR-MYS" class="k7" transform="translate(329,424)"><rect/><text>MYS</text></g>
<g id="cR-JPN" class="k7" transform="translate(349,426)"><rect/><text>JPN</text></g>
<g id="cR-CHE" class="k7" transform="translate(234,431)"><rect/><text>CHE</text></g>
<g id="cR-USA" class="k7" transform="translate(245,433)"><rect/><text>USA</text></g>
<g id="cR-THA" class="k7" transform="translate(322,437)"><rect/><text>THA</text></g>
<g id="cR-KOR" class="k7" transform="translate(268,439)"><rect/><text>KOR</text></g>
<g id="cR-BRA" class="k7" transform="translate(256,441)"><rect/><text>BRA</text></g>
<g id="cR-SGP" class="k7" transform="translate(308,436)"><rect/><text>SGP</text></g>
<g id="cR-CAN" class="k7" transform="translate(297,443)"><rect/><text>CAN</text></g>
<g id="cR-BEL" class="k7" transform="translate(285,445)"><rect/><text>BEL</text></g>
<g id="cR-CHN" class="k7 C" transform="translate(286,382)"><rect/><text>CHN</text></g>
</g>

<g id="nodes-dR" class="n L" filter="url(#sh)">
<g id="dR-ITA" class="k7" transform="translate(680,317)"><rect/><text>ITA</text></g>
<g id="dR-SAU" class="k4" transform="translate(703,318)"><rect/><text>SAU</text></g>
<g id="dR-ISR" class="k6" transform="translate(729,317)"><rect/><text>ISR</text></g>
<g id="dR-DEU" class="k7" transform="translate(669,327)"><rect/><text>DEU</text></g>
<g id="dR-IND" class="k7" transform="translate(662,336)"><rect/><text>IND</text></g>
<g id="dR-KOR" class="k7" transform="translate(737,334)"><rect/><text>KOR</text></g>
<g id="dR-NLD" class="k7" transform="translate(757,343)"><rect/><text>NLD</text></g>
<g id="dR-GBR" class="k7" transform="translate(652,346)"><rect/><text>GBR</text></g>
<g id="dR-IRL" class="k7" transform="translate(772,348)"><rect/><text>IRL</text></g>
<g id="dR-FRA" class="k7" transform="translate(644,359)"><rect/><text>FRA</text></g>
<g id="dR-CHE" class="k7" transform="translate(631,373)"><rect/><text>CHE</text></g>
<g id="dR-VNM" class="k5" transform="translate(771,376)"><rect/><text>VNM</text></g>
<g id="dR-CHN" class="k7" transform="translate(643,386)"><rect/><text>CHN</text></g>
<g id="dR-HKG" class="k6" transform="translate(763,391)"><rect/><text>HKG</text></g>
<g id="dR-BRA" class="k7" transform="translate(633,402)"><rect/><text>BRA</text></g>
<g id="dR-MEX" class="k7" transform="translate(769,417)"><rect/><text>MEX</text></g>
<g id="dR-CAN" class="k7" transform="translate(644,418)"><rect/><text>CAN</text></g>
<g id="dR-BEL" class="k7" transform="translate(658,428)"><rect/><text>BEL</text></g>
<g id="dR-MYS" class="k7" transform="translate(733,426)"><rect/><text>MYS</text></g>
<g id="dR-JPN" class="k7" transform="translate(757,430)"><rect/><text>JPN</text></g>
<g id="dR-AUS" class="k7" transform="translate(677,442)"><rect/><text>AUS</text></g>
<g id="dR-THA" class="k7" transform="translate(709,438)"><rect/><text>THA</text></g>
<g id="dR-SGP" class="k5" transform="translate(695,450)"><rect/><text>SGP</text></g>
<g id="dR-COL" class="k7" transform="translate(727,448)"><rect/><text>COL</text></g>
<g id="dR-USA" class="k7 C" transform="translate(701,377)"><rect/><text>USA</text></g>
</g>

<g id="nodes-bL" class="n H" filter="url(#sh)">
<g id="bL-MLT" class="k2" transform="translate(486,71)"><rect/><text>MLT</text></g>
<g id="bL-SEN" class="k4" transform="translate(497,71)"><rect/><text>SEN</text></g>
<g id="bL-GRC" class="k7" transform="translate(512,68)"><rect/><text>GRC</text></g>
<g id="bL-COD" class="k3" transform="translate(525,71)"><rect/><text>COD</text></g>
<g id="bL-CIV" class="k4" transform="translate(543,72)"><rect/><text>CIV</text></g>
<g id="bL-GIN" class="k3" transform="translate(473,78)"><rect/><text>GIN</text></g>
<g id="bL-LKA" class="k5" transform="translate(489,79)"><rect/><text>LKA</text></g>
<g id="bL-NGA" class="k4" transform="translate(506,77)"><rect/><text>NGA</text></g>
<g id="bL-MAR" class="k7" transform="translate(516,79)"><rect/><text>MAR</text></g>
<g id="bL-MDG" class="k4" transform="translate(533,77)"><rect/><text>MDG</text></g>
<g id="bL-JOR" class="k3" transform="translate(469,86)"><rect/><text>JOR</text></g>
<g id="bL-HND" class="k2" transform="translate(486,87)"><rect/><text>HND</text></g>
<g id="bL-LBN" class="k3" transform="translate(466,94)"><rect/><text>LBN</text></g>
<g id="bL-SDN" class="k2" transform="translate(478,97)"><rect/><text>SDN</text></g>
<g id="bL-ECU" class="k5" transform="translate(490,96)"><rect/><text>ECU</text></g>
<g id="bL-AUS" class="k3" transform="translate(526,88)"><rect/><text>AUS</text></g>
<g id="bL-TUR" class="k6" transform="translate(543,87)"><rect/><text>TUR</text></g>
<g id="bL-KWT" class="k2" transform="translate(554,86)"><rect/><text>KWT</text></g>
<g id="bL-IRQ" class="k3" transform="translate(566,86)"><rect/><text>IRQ</text></g>
<g id="bL-LBY" class="k3" transform="translate(455,93)"><rect/><text>LBY</text></g>
<g id="bL-URY" class="k2" transform="translate(506,92)"><rect/><text>URY</text></g>
<g id="bL-SLE" class="k2" transform="translate(516,97)"><rect/><text>SLE</text></g>
<g id="bL-HUN" class="k2" transform="translate(552,97)"><rect/><text>HUN</text></g>
<g id="bL-QAT" class="k1" transform="translate(568,97)"><rect/><text>QAT</text></g>
<g id="bL-MEX" class="k7" transform="translate(445,99)"><rect/><text>MEX</text></g>
<g id="bL-POL" class="k3" transform="translate(442,107)"><rect/><text>POL</text></g>
<g id="bL-GDR" class="k3" transform="translate(454,106)"><rect/><text>GDR</text></g>
<g id="bL-CRI" class="k3" transform="translate(526,102)"><rect/><text>CRI</text></g>
<g id="bL-ETH" class="k1" transform="translate(538,102)"><rect/><text>ETH</text></g>
<g id="bL-GAB" class="k3" transform="translate(570,105)"><rect/><text>GAB</text></g>
<g id="bL-SOM" class="k1" transform="translate(472,108)"><rect/><text>SOM</text></g>
<g id="bL-BHR" class="k2" transform="translate(497,107)"><rect/><text>BHR</text></g>
<g id="bL-MUS" class="k2" transform="translate(509,109)"><rect/><text>MUS</text></g>
<g id="bL-YUG" class="k7" transform="translate(554,108)"><rect/><text>YUG</text></g>
<g id="bL-TZA" class="k2" transform="translate(537,111)"><rect/><text>TZA</text></g>
<g id="bL-KHM" class="k1" transform="translate(526,118)"><rect/><text>KHM</text></g>
<g id="bL-MRT" class="k3" transform="translate(559,117)"><rect/><text>MRT</text></g>
<g id="bL-BFA" class="k3" transform="translate(578,118)"><rect/><text>BFA</text></g>
<g id="bL-SYR" class="k3" transform="translate(449,120)"><rect/><text>SYR</text></g>
<g id="bL-PRK" class="k1" transform="translate(517,122)"><rect/><text>PRK</text></g>
<g id="bL-BHS" class="k1" transform="translate(487,119)"><rect/><text>BHS</text></g>
<g id="bL-NER" class="k3" transform="translate(568,125)"><rect/><text>NER</text></g>
<g id="bL-WSM" class="k1" transform="translate(443,124)"><rect/><text>WSM</text></g>
<g id="bL-ITA" class="k7" transform="translate(498,127)"><rect/><text>ITA</text></g>
<g id="bL-NLD" class="k7" transform="translate(476,128)"><rect/><text>NLD</text></g>
<g id="bL-BEL" class="k7" transform="translate(543,128)"><rect/><text>BEL</text></g>
<g id="bL-CUB" class="k1" transform="translate(555,132)"><rect/><text>CUB</text></g>
<g id="bL-MNG" class="k1" transform="translate(465,135)"><rect/><text>MNG</text></g>
<g id="bL-ROU" class="k3" transform="translate(448,136)"><rect/><text>ROU</text></g>
<g id="bL-FDR" class="k7" transform="translate(513,137)"><rect/><text>FDR</text></g>
<g id="bL-FRA" class="k7" transform="translate(527,138)"><rect/><text>FRA</text></g>
<g id="bL-SAU" class="k1" transform="translate(567,138)"><rect/><text>SAU</text></g>
<g id="bL-HKG" class="k7" transform="translate(578,142)"><rect/><text>HKG</text></g>
<g id="bL-CHE" class="k7" transform="translate(438,143)"><rect/><text>CHE</text></g>
<g id="bL-AUT" class="k7" transform="translate(497,143)"><rect/><text>AUT</text></g>
<g id="bL-GMB" class="k4" transform="translate(559,145)"><rect/><text>GMB</text></g>
<g id="bL-NZL" class="k3" transform="translate(431,149)"><rect/><text>NZL</text></g>
<g id="bL-DOM" class="k1" transform="translate(446,151)"><rect/><text>DOM</text></g>
<g id="bL-ISL" class="k3" transform="translate(463,149)"><rect/><text>ISL</text></g>
<g id="bL-GUF" class="k1" transform="translate(579,151)"><rect/><text>GUF</text></g>
<g id="bL-GBR" class="k7" transform="translate(489,151)"><rect/><text>GBR</text></g>
<g id="bL-COL" class="k5" transform="translate(563,153)"><rect/><text>COL</text></g>
<g id="bL-VEN" class="k7" transform="translate(428,158)"><rect/><text>VEN</text></g>
<g id="bL-HTI" class="k1" transform="translate(459,160)"><rect/><text>HTI</text></g>
<g id="bL-JPN" class="k7" transform="translate(525,159)"><rect/><text>JPN</text></g>
<g id="bL-PRT" class="k7" transform="translate(555,160)"><rect/><text>PRT</text></g>
<g id="bL-IRL" class="k7" transform="translate(430,168)"><rect/><text>IRL</text></g>
<g id="bL-IND" class="k7" transform="translate(445,165)"><rect/><text>IND</text></g>
<g id="bL-COG" class="k3" transform="translate(573,165)"><rect/><text>COG</text></g>
<g id="bL-TGO" class="k3" transform="translate(584,165)"><rect/><text>TGO</text></g>
<g id="bL-GUY" class="k1" transform="translate(459,172)"><rect/><text>GUY</text></g>
<g id="bL-DJI" class="k1" transform="translate(543,172)"><rect/><text>DJI</text></g>
<g id="bL-CSK" class="k3" transform="translate(555,170)"><rect/><text>CSK</text></g>
<g id="bL-NCL" class="k1" transform="translate(570,174)"><rect/><text>NCL</text></g>
<g id="bL-SWE" class="k7" transform="translate(432,178)"><rect/><text>SWE</text></g>
<g id="bL-PAN" class="k3" transform="translate(442,183)"><rect/><text>PAN</text></g>
<g id="bL-CMR" class="k5" transform="translate(452,178)"><rect/><text>CMR</text></g>
<g id="bL-BOL" class="k4" transform="translate(461,183)"><rect/><text>BOL</text></g>
<g id="bL-FJI" class="k1" transform="translate(474,178)"><rect/><text>FJI</text></g>
<g id="bL-GTM" class="k3" transform="translate(478,187)"><rect/><text>GTM</text></g>
<g id="bL-NIC" class="k1" transform="translate(570,182)"><rect/><text>NIC</text></g>
<g id="bL-PER" class="k5" transform="translate(435,192)"><rect/><text>PER</text></g>
<g id="bL-UGA" class="k3" transform="translate(444,195)"><rect/><text>UGA</text></g>
<g id="bL-SLV" class="k1" transform="translate(457,193)"><rect/><text>SLV</text></g>
<g id="bL-IDN" class="k3" transform="translate(470,192)"><rect/><text>IDN</text></g>
<g id="bL-KOR" class="k1" transform="translate(489,192)"><rect/><text>KOR</text></g>
<g id="bL-NPL" class="k1" transform="translate(502,192)"><rect/><text>NPL</text></g>
<g id="bL-RWA" class="k4" transform="translate(512,193)"><rect/><text>RWA</text></g>
<g id="bL-CYP" class="k1" transform="translate(530,190)"><rect/><text>CYP</text></g>
<g id="bL-GHA" class="k4" transform="translate(543,192)"><rect/><text>GHA</text></g>
<g id="bL-SGP" class="k4" transform="translate(557,189)"><rect/><text>SGP</text></g>
<g id="bL-ESP" class="k7" transform="translate(568,190)"><rect/><text>ESP</text></g>
<g id="bL-TWN" class="k3" transform="translate(580,191)"><rect/><text>TWN</text></g>
<g id="bL-DNK" class="k7" transform="translate(451,201)"><rect/><text>DNK</text></g>
<g id="bL-AFG" class="k1" transform="translate(467,202)"><rect/><text>AFG</text></g>
<g id="bL-TUN" class="k1" transform="translate(477,206)"><rect/><text>TUN</text></g>
<g id="bL-BDI" class="k1" transform="translate(488,206)"><rect/><text>BDI</text></g>
<g id="bL-KEN" class="k1" transform="translate(498,207)"><rect/><text>KEN</text></g>
<g id="bL-BRB" class="k3" transform="translate(513,204)"><rect/><text>BRB</text></g>
<g id="bL-CAN" class="k7" transform="translate(523,198)"><rect/><text>CAN</text></g>
<g id="bL-LBR" class="k1" transform="translate(537,199)"><rect/><text>LBR</text></g>
<g id="bL-FIN" class="k1" transform="translate(552,197)"><rect/><text>FIN</text></g>
<g id="bL-DZA" class="k3" transform="translate(528,207)"><rect/><text>DZA</text></g>
<g id="bL-PAK" class="k7" transform="translate(550,207)"><rect/><text>PAK</text></g>
<g id="bL-CHL" class="k5" transform="translate(563,207)"><rect/><text>CHL</text></g>
<g id="bL-SUR" class="k3" transform="translate(574,205)"><rect/><text>SUR</text></g>
<g id="bL-IRN" class="k3" transform="translate(449,215)"><rect/><text>IRN</text></g>
<g id="bL-PHL" class="k3" transform="translate(460,216)"><rect/><text>PHL</text></g>
<g id="bL-ZAF" class="k3" transform="translate(470,212)"><rect/><text>ZAF</text></g>
<g id="bL-ARG" class="k7" transform="translate(473,220)"><rect/><text>ARG</text></g>
<g id="bL-ISR" class="k7" transform="translate(485,216)"><rect/><text>ISR</text></g>
<g id="bL-EGY" class="k1" transform="translate(496,218)"><rect/><text>EGY</text></g>
<g id="bL-PRY" class="k3" transform="translate(516,215)"><rect/><text>PRY</text></g>
<g id="bL-MDV" class="k1" transform="translate(527,215)"><rect/><text>MDV</text></g>
<g id="bL-TCD" class="k3" transform="translate(538,215)"><rect/><text>TCD</text></g>
<g id="bL-LAO" class="k3" transform="translate(553,217)"><rect/><text>LAO</text></g>
<g id="bL-LUX" class="k3" transform="translate(541,223)"><rect/><text>LUX</text></g>
<g id="bL-TTO" class="k3" transform="translate(462,227)"><rect/><text>TTO</text></g>
<g id="bL-NOR" class="k7" transform="translate(475,228)"><rect/><text>NOR</text></g>
<g id="bL-MYS" class="k7" transform="translate(487,227)"><rect/><text>MYS</text></g>
<g id="bL-ALB" class="k3" transform="translate(501,228)"><rect/><text>ALB</text></g>
<g id="bL-BRA" class="k5" transform="translate(512,227)"><rect/><text>BRA</text></g>
<g id="bL-THA" class="k5" transform="translate(521,231)"><rect/><text>THA</text></g>
<g id="bL-VNM" class="k1" transform="translate(531,226)"><rect/><text>VNM</text></g>
<g id="bL-USA" class="k7 C" transform="translate(505,155)"><rect/><text>USA</text></g>
</g>

<g id="nodes-cL" class="n T" filter="url(#sh)">
<g id="cL-AFG" class="k3" transform="translate(74,297)"><rect/><text>AFG</text></g>
<g id="cL-ALB" class="k3" transform="translate(52,306)"><rect/><text>ALB</text></g>
<g id="cL-DZA" class="k3" transform="translate(82,304)"><rect/><text>DZA</text></g>
<g id="cL-AND" class="k7" transform="translate(98,308)"><rect/><text>AND</text></g>
<g id="cL-AGO" class="k1" transform="translate(126,305)"><rect/><text>AGO</text></g>
<g id="cL-ATG" class="k4" transform="translate(137,308)"><rect/><text>ATG</text></g>
<g id="cL-ARG" class="k7" transform="translate(40,314)"><rect/><text>ARG</text></g>
<g id="cL-ARM" class="k7" transform="translate(63,311)"><rect/><text>ARM</text></g>
<g id="cL-AUS" class="k7" transform="translate(74,315)"><rect/><text>AUS</text></g>
<g id="cL-AUT" class="k7" transform="translate(87,314)"><rect/><text>AUT</text></g>
<g id="cL-AZE" class="k6" transform="translate(99,313)"><rect/><text>AZE</text></g>
<g id="cL-BHS" class="k4" transform="translate(114,313)"><rect/><text>BHS</text></g>
<g id="cL-BHR" class="k5" transform="translate(129,316)"><rect/><text>BHR</text></g>
<g id="cL-BGD" class="k4" transform="translate(151,314)"><rect/><text>BGD</text></g>
<g id="cL-BRB" class="k7" transform="translate(19,322)"><rect/><text>BRB</text></g>
<g id="cL-BLR" class="k6" transform="translate(29,325)"><rect/><text>BLR</text></g>
<g id="cL-BEL" class="k7" transform="translate(48,321)"><rect/><text>BEL</text></g>
<g id="cL-BLZ" class="k7" transform="translate(62,323)"><rect/><text>BLZ</text></g>
<g id="cL-BEN" class="k7" transform="translate(100,322)"><rect/><text>BEN</text></g>
<g id="cL-BTN" class="k6" transform="translate(110,325)"><rect/><text>BTN</text></g>
<g id="cL-BOL" class="k4" transform="translate(120,321)"><rect/><text>BOL</text></g>
<g id="cL-BIH" class="k7" transform="translate(140,322)"><rect/><text>BIH</text></g>
<g id="cL-BWA" class="k2" transform="translate(162,321)"><rect/><text>BWA</text></g>
<g id="cL-BRA" class="k7" transform="translate(24,331)"><rect/><text>BRA</text></g>
<g id="cL-BRN" class="k6" transform="translate(37,330)"><rect/><text>BRN</text></g>
<g id="cL-BGR" class="k7" transform="translate(51,332)"><rect/><text>BGR</text></g>
<g id="cL-BFA" class="k4" transform="translate(66,330)"><rect/><text>BFA</text></g>
<g id="cL-BDI" class="k7" transform="translate(79,331)"><rect/><text>BDI</text></g>
<g id="cL-KHM" class="k6" transform="translate(89,333)"><rect/><text>KHM</text></g>
<g id="cL-CMR" class="k4" transform="translate(111,331)"><rect/><text>CMR</text></g>
<g id="cL-CAN" class="k3" transform="translate(125,330)"><rect/><text>CAN</text></g>
<g id="cL-CPV" class="k7" transform="translate(136,332)"><rect/><text>CPV</text></g>
<g id="cL-CAF" class="k5" transform="translate(148,330)"><rect/><text>CAF</text></g>
<g id="cL-TCD" class="k5" transform="translate(170,331)"><rect/><text>TCD</text></g>
<g id="cL-CHL" class="k7" transform="translate(12,340)"><rect/><text>CHL</text></g>
<g id="cL-COL" class="k6" transform="translate(27,339)"><rect/><text>COL</text></g>
<g id="cL-COM" class="k7" transform="translate(40,341)"><rect/><text>COM</text></g>
<g id="cL-COG" class="k7" transform="translate(55,339)"><rect/><text>COG</text></g>
<g id="cL-COD" class="k7" transform="translate(69,340)"><rect/><text>COD</text></g>
<g id="cL-CRI" class="k7" transform="translate(82,341)"><rect/><text>CRI</text></g>
<g id="cL-CIV" class="k4" transform="translate(98,339)"><rect/><text>CIV</text></g>
<g id="cL-HRV" class="k5" transform="translate(116,340)"><rect/><text>HRV</text></g>
<g id="cL-CUB" class="k7" transform="translate(130,341)"><rect/><text>CUB</text></g>
<g id="cL-CYP" class="k3" transform="translate(144,339)"><rect/><text>CYP</text></g>
<g id="cL-CZE" class="k6" transform="translate(156,341)"><rect/><text>CZE</text></g>
<g id="cL-DNK" class="k7" transform="translate(168,340)"><rect/><text>DNK</text></g>
<g id="cL-DJI" class="k5" transform="translate(21,349)"><rect/><text>DJI</text></g>
<g id="cL-DMA" class="k7" transform="translate(34,348)"><rect/><text>DMA</text></g>
<g id="cL-DOM" class="k7" transform="translate(47,350)"><rect/><text>DOM</text></g>
<g id="cL-ECU" class="k4" transform="translate(60,348)"><rect/><text>ECU</text></g>
<g id="cL-EGY" class="k7" transform="translate(74,349)"><rect/><text>EGY</text></g>
<g id="cL-SLV" class="k7" transform="translate(88,350)"><rect/><text>SLV</text></g>
<g id="cL-GNQ" class="k7" transform="translate(101,348)"><rect/><text>GNQ</text></g>
<g id="cL-ERI" class="k6" transform="translate(115,349)"><rect/><text>ERI</text></g>
<g id="cL-EST" class="k3" transform="translate(128,350)"><rect/><text>EST</text></g>
<g id="cL-ETH" class="k7" transform="translate(141,348)"><rect/><text>ETH</text></g>
<g id="cL-FJI" class="k5" transform="translate(155,349)"><rect/><text>FJI</text></g>
<g id="cL-FIN" class="k7" transform="translate(175,350)"><rect/><text>FIN</text></g>
<g id="cL-FRA" class="k7" transform="translate(10,358)"><rect/><text>FRA</text></g>
<g id="cL-GAB" class="k7" transform="translate(25,357)"><rect/><text>GAB</text></g>
<g id="cL-GMB" class="k4" transform="translate(38,359)"><rect/><text>GMB</text></g>
<g id="cL-GEO" class="k7" transform="translate(52,357)"><rect/><text>GEO</text></g>
<g id="cL-DEU" class="k7" transform="translate(66,358)"><rect/><text>DEU</text></g>
<g id="cL-GHA" class="k7" transform="translate(80,359)"><rect/><text>GHA</text></g>
<g id="cL-GRC" class="k7" transform="translate(95,357)"><rect/><text>GRC</text></g>
<g id="cL-GRD" class="k4" transform="translate(110,358)"><rect/><text>GRD</text></g>
<g id="cL-GTM" class="k7" transform="translate(124,359)"><rect/><text>GTM</text></g>
<g id="cL-GIN" class="k6" transform="translate(137,357)"><rect/><text>GIN</text></g>
<g id="cL-GNB" class="k7" transform="translate(150,358)"><rect/><text>GNB</text></g>
<g id="cL-GUY" class="k5" transform="translate(163,359)"><rect/><text>GUY</text></g>
<g id="cL-HTI" class="k2" transform="translate(179,357)"><rect/><text>HTI</text></g>
<g id="cL-HND" class="k7" transform="translate(17,367)"><rect/><text>HND</text></g>
<g id="cL-HKG" class="k5" transform="translate(31,366)"><rect/><text>HKG</text></g>
<g id="cL-HUN" class="k7" transform="translate(45,368)"><rect/><text>HUN</text></g>
<g id="cL-ISL" class="k4" transform="translate(58,366)"><rect/><text>ISL</text></g>
<g id="cL-IND" class="k7" transform="translate(72,367)"><rect/><text>IND</text></g>
<g id="cL-IDN" class="k7" transform="translate(85,368)"><rect/><text>IDN</text></g>
<g id="cL-IRN" class="k7" transform="translate(99,366)"><rect/><text>IRN</text></g>
<g id="cL-IRQ" class="k7" transform="translate(114,367)"><rect/><text>IRQ</text></g>
<g id="cL-IRL" class="k5" transform="translate(128,368)"><rect/><text>IRL</text></g>
<g id="cL-ISR" class="k7" transform="translate(143,366)"><rect/><text>ISR</text></g>
<g id="cL-ITA" class="k6" transform="translate(157,367)"><rect/><text>ITA</text></g>
<g id="cL-JAM" class="k7" transform="translate(171,368)"><rect/><text>JAM</text></g>
<g id="cL-JPN" class="k4" transform="translate(186,366)"><rect/><text>JPN</text></g>
<g id="cL-JOR" class="k6" transform="translate(12,376)"><rect/><text>JOR</text></g>
<g id="cL-KAZ" class="k7" transform="translate(27,375)"><rect/><text>KAZ</text></g>
<g id="cL-KEN" class="k3" transform="translate(40,377)"><rect/><text>KEN</text></g>
<g id="cL-KIR" class="k7" transform="translate(55,375)"><rect/><text>KIR</text></g>
<g id="cL-KOR" class="k7" transform="translate(69,376)"><rect/><text>KOR</text></g>
<g id="cL-KWT" class="k7" transform="translate(79,377)"><rect/><text>KWT</text></g>
<g id="cL-KGZ" class="k7" transform="translate(107,376)"><rect/><text>KGZ</text></g>
<g id="cL-LAO" class="k4" transform="translate(119,375)"><rect/><text>LAO</text></g>
<g id="cL-LVA" class="k7" transform="translate(132,377)"><rect/><text>LVA</text></g>
<g id="cL-LBN" class="k6" transform="translate(146,375)"><rect/><text>LBN</text></g>
<g id="cL-LSO" class="k5" transform="translate(160,376)"><rect/><text>LSO</text></g>
<g id="cL-LBR" class="k1" transform="translate(176,377)"><rect/><text>LBR</text></g>
<g id="cL-LBY" class="k4" transform="translate(20,385)"><rect/><text>LBY</text></g>
<g id="cL-LTU" class="k7" transform="translate(34,384)"><rect/><text>LTU</text></g>
<g id="cL-LUX" class="k5" transform="translate(48,386)"><rect/><text>LUX</text></g>
<g id="cL-MAC" class="k7" transform="translate(62,384)"><rect/><text>MAC</text></g>
<g id="cL-MDG" class="k7" transform="translate(76,385)"><rect/><text>MDG</text></g>
<g id="cL-MWI" class="k7" transform="translate(104,386)"><rect/><text>MWI</text></g>
<g id="cL-MYS" class="k7" transform="translate(117,384)"><rect/><text>MYS</text></g>
<g id="cL-MDV" class="k6" transform="translate(130,385)"><rect/><text>MDV</text></g>
<g id="cL-MLI" class="k7" transform="translate(144,386)"><rect/><text>MLI</text></g>
<g id="cL-MLT" class="k4" transform="translate(157,384)"><rect/><text>MLT</text></g>
<g id="cL-MHL" class="k5" transform="translate(171,385)"><rect/><text>MHL</text></g>
<g id="cL-MRT" class="k3" transform="translate(186,386)"><rect/><text>MRT</text></g>
<g id="cL-MUS" class="k7" transform="translate(14,394)"><rect/><text>MUS</text></g>
<g id="cL-MEX" class="k6" transform="translate(28,393)"><rect/><text>MEX</text></g>
<g id="cL-FSM" class="k3" transform="translate(41,395)"><rect/><text>FSM</text></g>
<g id="cL-MDA" class="k2" transform="translate(55,393)"><rect/><text>MDA</text></g>
<g id="cL-MNG" class="k4" transform="translate(69,394)"><rect/><text>MNG</text></g>
<g id="cL-MNE" class="k7" transform="translate(83,395)"><rect/><text>MNE</text></g>
<g id="cL-MAR" class="k7" transform="translate(96,393)"><rect/><text>MAR</text></g>
<g id="cL-MOZ" class="k3" transform="translate(111,394)"><rect/><text>MOZ</text></g>
<g id="cL-MMR" class="k5" transform="translate(125,395)"><rect/><text>MMR</text></g>
<g id="cL-NAM" class="k7" transform="translate(139,393)"><rect/><text>NAM</text></g>
<g id="cL-NPL" class="k4" transform="translate(152,394)"><rect/><text>NPL</text></g>
<g id="cL-NLD" class="k3" transform="translate(166,395)"><rect/><text>NLD</text></g>
<g id="cL-NCL" class="k5" transform="translate(180,393)"><rect/><text>NCL</text></g>
<g id="cL-NZL" class="k5" transform="translate(19,403)"><rect/><text>NZL</text></g>
<g id="cL-NIC" class="k7" transform="translate(33,402)"><rect/><text>NIC</text></g>
<g id="cL-NER" class="k3" transform="translate(48,404)"><rect/><text>NER</text></g>
<g id="cL-NGA" class="k2" transform="translate(60,402)"><rect/><text>NGA</text></g>
<g id="cL-NOR" class="k3" transform="translate(74,403)"><rect/><text>NOR</text></g>
<g id="cL-OMN" class="k7" transform="translate(90,404)"><rect/><text>OMN</text></g>
<g id="cL-PAK" class="k5" transform="translate(104,402)"><rect/><text>PAK</text></g>
<g id="cL-PLW" class="k7" transform="translate(118,403)"><rect/><text>PLW</text></g>
<g id="cL-PAN" class="k3" transform="translate(132,404)"><rect/><text>PAN</text></g>
<g id="cL-PNG" class="k7" transform="translate(146,402)"><rect/><text>PNG</text></g>
<g id="cL-PRY" class="k7" transform="translate(160,403)"><rect/><text>PRY</text></g>
<g id="cL-PER" class="k4" transform="translate(174,404)"><rect/><text>PER</text></g>
<g id="cL-PHL" class="k3" transform="translate(14,412)"><rect/><text>PHL</text></g>
<g id="cL-POL" class="k7" transform="translate(27,411)"><rect/><text>POL</text></g>
<g id="cL-PRT" class="k3" transform="translate(42,413)"><rect/><text>PRT</text></g>
<g id="cL-QAT" class="k5" transform="translate(56,411)"><rect/><text>QAT</text></g>
<g id="cL-ROU" class="k4" transform="translate(70,412)"><rect/><text>ROU</text></g>
<g id="cL-RUS" class="k7" transform="translate(84,413)"><rect/><text>RUS</text></g>
<g id="cL-RWA" class="k7" transform="translate(97,411)"><rect/><text>RWA</text></g>
<g id="cL-KNA" class="k4" transform="translate(113,412)"><rect/><text>KNA</text></g>
<g id="cL-LCA" class="k7" transform="translate(127,413)"><rect/><text>LCA</text></g>
<g id="cL-VCT" class="k6" transform="translate(141,411)"><rect/><text>VCT</text></g>
<g id="cL-WSM" class="k3" transform="translate(155,412)"><rect/><text>WSM</text></g>
<g id="cL-STP" class="k4" transform="translate(170,413)"><rect/><text>STP</text></g>
<g id="cL-SAU" class="k5" transform="translate(22,421)"><rect/><text>SAU</text></g>
<g id="cL-SEN" class="k7" transform="translate(36,420)"><rect/><text>SEN</text></g>
<g id="cL-SRB" class="k7" transform="translate(50,422)"><rect/><text>SRB</text></g>
<g id="cL-SYC" class="k5" transform="translate(63,420)"><rect/><text>SYC</text></g>
<g id="cL-SLE" class="k4" transform="translate(77,421)"><rect/><text>SLE</text></g>
<g id="cL-SGP" class="k7" transform="translate(94,422)"><rect/><text>SGP</text></g>
<g id="cL-SVK" class="k3" transform="translate(109,420)"><rect/><text>SVK</text></g>
<g id="cL-SVN" class="k7" transform="translate(125,421)"><rect/><text>SVN</text></g>
<g id="cL-SLB" class="k7" transform="translate(139,422)"><rect/><text>SLB</text></g>
<g id="cL-SOM" class="k1" transform="translate(150,420)"><rect/><text>SOM</text></g>
<g id="cL-ZAF" class="k2" transform="translate(160,422)"><rect/><text>ZAF</text></g>
<g id="cL-ESP" class="k4" transform="translate(174,421)"><rect/><text>ESP</text></g>
<g id="cL-LKA" class="k7" transform="translate(30,430)"><rect/><text>LKA</text></g>
<g id="cL-SDN" class="k6" transform="translate(46,429)"><rect/><text>SDN</text></g>
<g id="cL-SUR" class="k4" transform="translate(60,431)"><rect/><text>SUR</text></g>
<g id="cL-SWZ" class="k4" transform="translate(75,429)"><rect/><text>SWZ</text></g>
<g id="cL-SWE" class="k3" transform="translate(90,430)"><rect/><text>SWE</text></g>
<g id="cL-CHE" class="k7" transform="translate(106,431)"><rect/><text>CHE</text></g>
<g id="cL-SYR" class="k4" transform="translate(120,429)"><rect/><text>SYR</text></g>
<g id="cL-TWN" class="k5" transform="translate(134,430)"><rect/><text>TWN</text></g>
<g id="cL-TJK" class="k6" transform="translate(150,431)"><rect/><text>TJK</text></g>
<g id="cL-TZA" class="k4" transform="translate(164,429)"><rect/><text>TZA</text></g>
<g id="cL-THA" class="k5" transform="translate(38,439)"><rect/><text>THA</text></g>
<g id="cL-TLS" class="k3" transform="translate(55,438)"><rect/><text>TLS</text></g>
<g id="cL-TGO" class="k7" transform="translate(70,440)"><rect/><text>TGO</text></g>
<g id="cL-TON" class="k3" transform="translate(85,438)"><rect/><text>TON</text></g>
<g id="cL-TTO" class="k7" transform="translate(100,439)"><rect/><text>TTO</text></g>
<g id="cL-TUN" class="k5" transform="translate(114,440)"><rect/><text>TUN</text></g>
<g id="cL-TUR" class="k3" transform="translate(129,438)"><rect/><text>TUR</text></g>
<g id="cL-TKM" class="k4" transform="translate(144,439)"><rect/><text>TKM</text></g>
<g id="cL-UGA" class="k3" transform="translate(158,440)"><rect/><text>UGA</text></g>
<g id="cL-UKR" class="k1" transform="translate(45,448)"><rect/><text>UKR</text></g>
<g id="cL-ARE" class="k2" transform="translate(62,447)"><rect/><text>ARE</text></g>
<g id="cL-GBR" class="k3" transform="translate(78,449)"><rect/><text>GBR</text></g>
<g id="cL-USA" class="k5" transform="translate(94,447)"><rect/><text>USA</text></g>
<g id="cL-URY" class="k4" transform="translate(110,448)"><rect/><text>URY</text></g>
<g id="cL-UZB" class="k7" transform="translate(126,449)"><rect/><text>UZB</text></g>
<g id="cL-VUT" class="k3" transform="translate(142,447)"><rect/><text>VUT</text></g>
<g id="cL-VEN" class="k1" transform="translate(62,456)"><rect/><text>VEN</text></g>
<g id="cL-VNM" class="k3" transform="translate(78,457)"><rect/><text>VNM</text></g>
<g id="cL-YEM" class="k4" transform="translate(96,455)"><rect/><text>YEM</text></g>
<g id="cL-ZMB" class="k3" transform="translate(112,456)"><rect/><text>ZMB</text></g>
<g id="cL-ZWE" class="k5" transform="translate(128,457)"><rect/><text>ZWE</text></g>
<g id="cL-CHN" class="k7 C" transform="translate(92,377)"><rect/><text>CHN</text></g>
</g>

<g id="nodes-dL" class="n H" filter="url(#sh)">
<g id="dL-ZWE" class="k7" transform="translate(480,288)"><rect/><text>ZWE</text></g>
<g id="dL-ZMB" class="k7" transform="translate(497,287)"><rect/><text>ZMB</text></g>
<g id="dL-YEM" class="k4" transform="translate(515,289)"><rect/><text>YEM</text></g>
<g id="dL-VNM" class="k8" transform="translate(447,299)"><rect/><text>VNM</text></g>
<g id="dL-VEN" class="k7" transform="translate(462,301)"><rect/><text>VEN</text></g>
<g id="dL-VUT" class="k6" transform="translate(487,298)"><rect/><text>VUT</text></g>
<g id="dL-UZB" class="k4" transform="translate(505,300)"><rect/><text>UZB</text></g>
<g id="dL-URY" class="k6" transform="translate(529,298)"><rect/><text>URY</text></g>
<g id="dL-GBR" class="k7" transform="translate(545,300)"><rect/><text>GBR</text></g>
<g id="dL-ARE" class="k6" transform="translate(432,311)"><rect/><text>ARE</text></g>
<g id="dL-UKR" class="k7" transform="translate(450,309)"><rect/><text>UKR</text></g>
<g id="dL-UGA" class="k3" transform="translate(467,311)"><rect/><text>UGA</text></g>
<g id="dL-TKM" class="k7" transform="translate(491,310)"><rect/><text>TKM</text></g>
<g id="dL-TUR" class="k4" transform="translate(508,312)"><rect/><text>TUR</text></g>
<g id="dL-TUN" class="k4" transform="translate(522,309)"><rect/><text>TUN</text></g>
<g id="dL-TTO" class="k7" transform="translate(551,310)"><rect/><text>TTO</text></g>
<g id="dL-TON" class="k7" transform="translate(566,311)"><rect/><text>TON</text></g>
<g id="dL-TGO" class="k7" transform="translate(423,322)"><rect/><text>TGO</text></g>
<g id="dL-TLS" class="k6" transform="translate(438,320)"><rect/><text>TLS</text></g>
<g id="dL-THA" class="k7" transform="translate(456,322)"><rect/><text>THA</text></g>
<g id="dL-TZA" class="k3" transform="translate(482,321)"><rect/><text>TZA</text></g>
<g id="dL-TJK" class="k6" transform="translate(495,323)"><rect/><text>TJK</text></g>
<g id="dL-TWN" class="k7" transform="translate(520,321)"><rect/><text>TWN</text></g>
<g id="dL-SYR" class="k6" transform="translate(540,322)"><rect/><text>SYR</text></g>
<g id="dL-CHE" class="k7" transform="translate(557,320)"><rect/><text>CHE</text></g>
<g id="dL-SWE" class="k7" transform="translate(574,322)"><rect/><text>SWE</text></g>
<g id="dL-SWZ" class="k7" transform="translate(414,333)"><rect/><text>SWZ</text></g>
<g id="dL-SUR" class="k6" transform="translate(431,331)"><rect/><text>SUR</text></g>
<g id="dL-SDN" class="k7" transform="translate(447,333)"><rect/><text>SDN</text></g>
<g id="dL-LKA" class="k7" transform="translate(462,331)"><rect/><text>LKA</text></g>
<g id="dL-ESP" class="k7" transform="translate(478,333)"><rect/><text>ESP</text></g>
<g id="dL-ZAF" class="k7" transform="translate(505,332)"><rect/><text>ZAF</text></g>
<g id="dL-SOM" class="k2" transform="translate(519,334)"><rect/><text>SOM</text></g>
<g id="dL-SLB" class="k4" transform="translate(532,331)"><rect/><text>SLB</text></g>
<g id="dL-SVN" class="k7" transform="translate(547,333)"><rect/><text>SVN</text></g>
<g id="dL-SVK" class="k6" transform="translate(562,332)"><rect/><text>SVK</text></g>
<g id="dL-SGP" class="k5" transform="translate(580,333)"><rect/><text>SGP</text></g>
<g id="dL-SLE" class="k6" transform="translate(411,344)"><rect/><text>SLE</text></g>
<g id="dL-SYC" class="k7" transform="translate(427,342)"><rect/><text>SYC</text></g>
<g id="dL-SRB" class="k4" transform="translate(444,344)"><rect/><text>SRB</text></g>
<g id="dL-SEN" class="k7" transform="translate(460,343)"><rect/><text>SEN</text></g>
<g id="dL-SAU" class="k6" transform="translate(474,345)"><rect/><text>SAU</text></g>
<g id="dL-STP" class="k3" transform="translate(491,343)"><rect/><text>STP</text></g>
<g id="dL-WSM" class="k4" transform="translate(513,344)"><rect/><text>WSM</text></g>
<g id="dL-VCT" class="k7" transform="translate(530,342)"><rect/><text>VCT</text></g>
<g id="dL-LCA" class="k6" transform="translate(546,344)"><rect/><text>LCA</text></g>
<g id="dL-KNA" class="k4" transform="translate(560,343)"><rect/><text>KNA</text></g>
<g id="dL-RWA" class="k4" transform="translate(577,345)"><rect/><text>RWA</text></g>
<g id="dL-RUS" class="k7" transform="translate(590,343)"><rect/><text>RUS</text></g>
<g id="dL-ROU" class="k7" transform="translate(406,355)"><rect/><text>ROU</text></g>
<g id="dL-QAT" class="k6" transform="translate(421,353)"><rect/><text>QAT</text></g>
<g id="dL-PRT" class="k7" transform="translate(436,355)"><rect/><text>PRT</text></g>
<g id="dL-POL" class="k5" transform="translate(451,354)"><rect/><text>POL</text></g>
<g id="dL-PHL" class="k7" transform="translate(466,356)"><rect/><text>PHL</text></g>
<g id="dL-PER" class="k7" transform="translate(482,354)"><rect/><text>PER</text></g>
<g id="dL-PRY" class="k3" transform="translate(499,355)"><rect/><text>PRY</text></g>
<g id="dL-PNG" class="k7" transform="translate(524,354)"><rect/><text>PNG</text></g>
<g id="dL-PAN" class="k4" transform="translate(540,356)"><rect/><text>PAN</text></g>
<g id="dL-PLW" class="k7" transform="translate(555,354)"><rect/><text>PLW</text></g>
<g id="dL-PAK" class="k1" transform="translate(569,355)"><rect/><text>PAK</text></g>
<g id="dL-OMN" class="k6" transform="translate(586,353)"><rect/><text>OMN</text></g>
<g id="dL-NOR" class="k3" transform="translate(403,366)"><rect/><text>NOR</text></g>
<g id="dL-NGA" class="k2" transform="translate(418,364)"><rect/><text>NGA</text></g>
<g id="dL-NER" class="k4" transform="translate(434,366)"><rect/><text>NER</text></g>
<g id="dL-NIC" class="k5" transform="translate(449,365)"><rect/><text>NIC</text></g>
<g id="dL-NZL" class="k7" transform="translate(470,364)"><rect/><text>NZL</text></g>
<g id="dL-NCL" class="k6" transform="translate(483,366)"><rect/><text>NCL</text></g>
<g id="dL-NLD" class="k4" transform="translate(516,365)"><rect/><text>NLD</text></g>
<g id="dL-NPL" class="k6" transform="translate(532,367)"><rect/><text>NPL</text></g>
<g id="dL-NAM" class="k5" transform="translate(548,365)"><rect/><text>NAM</text></g>
<g id="dL-MMR" class="k7" transform="translate(563,366)"><rect/><text>MMR</text></g>
<g id="dL-MOZ" class="k3" transform="translate(579,364)"><rect/><text>MOZ</text></g>
<g id="dL-MAR" class="k2" transform="translate(595,366)"><rect/><text>MAR</text></g>
<g id="dL-MNE" class="k8" transform="translate(398,377)"><rect/><text>MNE</text></g>
<g id="dL-MNG" class="k3" transform="translate(414,375)"><rect/><text>MNG</text></g>
<g id="dL-MDA" class="k4" transform="translate(430,377)"><rect/><text>MDA</text></g>
<g id="dL-FSM" class="k7" transform="translate(446,376)"><rect/><text>FSM</text></g>
<g id="dL-MEX" class="k7" transform="translate(462,378)"><rect/><text>MEX</text></g>
<g id="dL-MUS" class="k7" transform="translate(478,376)"><rect/><text>MUS</text></g>
<g id="dL-MRT" class="k2" transform="translate(520,377)"><rect/><text>MRT</text></g>
<g id="dL-MHL" class="k7" transform="translate(536,375)"><rect/><text>MHL</text></g>
<g id="dL-MLT" class="k4" transform="translate(552,377)"><rect/><text>MLT</text></g>
<g id="dL-MLI" class="k3" transform="translate(568,376)"><rect/><text>MLI</text></g>
<g id="dL-MDV" class="k4" transform="translate(584,378)"><rect/><text>MDV</text></g>
<g id="dL-MYS" class="k6" transform="translate(401,388)"><rect/><text>MYS</text></g>
<g id="dL-MWI" class="k6" transform="translate(418,386)"><rect/><text>MWI</text></g>
<g id="dL-MDG" class="k2" transform="translate(434,388)"><rect/><text>MDG</text></g>
<g id="dL-MAC" class="k7" transform="translate(452,387)"><rect/><text>MAC</text></g>
<g id="dL-LUX" class="k7" transform="translate(484,389)"><rect/><text>LUX</text></g>
<g id="dL-LTU" class="k7" transform="translate(500,387)"><rect/><text>LTU</text></g>
<g id="dL-LBY" class="k4" transform="translate(516,388)"><rect/><text>LBY</text></g>
<g id="dL-LBR" class="k7" transform="translate(535,386)"><rect/><text>LBR</text></g>
<g id="dL-LSO" class="k6" transform="translate(552,388)"><rect/><text>LSO</text></g>
<g id="dL-LBN" class="k5" transform="translate(571,387)"><rect/><text>LBN</text></g>
<g id="dL-LVA" class="k3" transform="translate(590,389)"><rect/><text>LVA</text></g>
<g id="dL-LAO" class="k6" transform="translate(405,399)"><rect/><text>LAO</text></g>
<g id="dL-KGZ" class="k2" transform="translate(421,397)"><rect/><text>KGZ</text></g>
<g id="dL-KWT" class="k4" transform="translate(436,399)"><rect/><text>KWT</text></g>
<g id="dL-KOR" class="k6" transform="translate(453,398)"><rect/><text>KOR</text></g>
<g id="dL-KIR" class="k7" transform="translate(469,400)"><rect/><text>KIR</text></g>
<g id="dL-KEN" class="k7" transform="translate(482,398)"><rect/><text>KEN</text></g>
<g id="dL-KAZ" class="k6" transform="translate(500,399)"><rect/><text>KAZ</text></g>
<g id="dL-JOR" class="k4" transform="translate(522,398)"><rect/><text>JOR</text></g>
<g id="dL-JPN" class="k3" transform="translate(546,400)"><rect/><text>JPN</text></g>
<g id="dL-JAM" class="k4" transform="translate(563,398)"><rect/><text>JAM</text></g>
<g id="dL-ITA" class="k7" transform="translate(580,399)"><rect/><text>ITA</text></g>
<g id="dL-ISR" class="k2" transform="translate(596,398)"><rect/><text>ISR</text></g>
<g id="dL-IRL" class="k2" transform="translate(400,410)"><rect/><text>IRL</text></g>
<g id="dL-IRQ" class="k3" transform="translate(416,408)"><rect/><text>IRQ</text></g>
<g id="dL-IRN" class="k4" transform="translate(432,410)"><rect/><text>IRN</text></g>
<g id="dL-IDN" class="k4" transform="translate(448,409)"><rect/><text>IDN</text></g>
<g id="dL-IND" class="k4" transform="translate(465,411)"><rect/><text>IND</text></g>
<g id="dL-ISL" class="k7" transform="translate(495,409)"><rect/><text>ISL</text></g>
<g id="dL-HUN" class="k6" transform="translate(520,410)"><rect/><text>HUN</text></g>
<g id="dL-HKG" class="k7" transform="translate(540,408)"><rect/><text>HKG</text></g>
<g id="dL-HND" class="k4" transform="translate(557,410)"><rect/><text>HND</text></g>
<g id="dL-HTI" class="k3" transform="translate(574,409)"><rect/><text>HTI</text></g>
<g id="dL-GUY" class="k3" transform="translate(590,411)"><rect/><text>GUY</text></g>
<g id="dL-GNB" class="k4" transform="translate(404,421)"><rect/><text>GNB</text></g>
<g id="dL-GIN" class="k7" transform="translate(420,419)"><rect/><text>GIN</text></g>
<g id="dL-GTM" class="k3" transform="translate(436,421)"><rect/><text>GTM</text></g>
<g id="dL-GRD" class="k7" transform="translate(450,420)"><rect/><text>GRD</text></g>
<g id="dL-GRC" class="k3" transform="translate(466,422)"><rect/><text>GRC</text></g>
<g id="dL-GHA" class="k4" transform="translate(483,420)"><rect/><text>GHA</text></g>
<g id="dL-DEU" class="k7" transform="translate(508,421)"><rect/><text>DEU</text></g>
<g id="dL-GEO" class="k5" transform="translate(532,419)"><rect/><text>GEO</text></g>
<g id="dL-GMB" class="k6" transform="translate(553,421)"><rect/><text>GMB</text></g>
<g id="dL-GAB" class="k1" transform="translate(570,420)"><rect/><text>GAB</text></g>
<g id="dL-FRA" class="k4" transform="translate(589,422)"><rect/><text>FRA</text></g>
<g id="dL-FIN" class="k6" transform="translate(409,432)"><rect/><text>FIN</text></g>
<g id="dL-FJI" class="k7" transform="translate(426,430)"><rect/><text>FJI</text></g>
<g id="dL-ETH" class="k4" transform="translate(442,432)"><rect/><text>ETH</text></g>
<g id="dL-EST" class="k3" transform="translate(457,431)"><rect/><text>EST</text></g>
<g id="dL-ERI" class="k4" transform="translate(482,433)"><rect/><text>ERI</text></g>
<g id="dL-GNQ" class="k3" transform="translate(500,431)"><rect/><text>GNQ</text></g>
<g id="dL-SLV" class="k7" transform="translate(523,432)"><rect/><text>SLV</text></g>
<g id="dL-EGY" class="k2" transform="translate(545,430)"><rect/><text>EGY</text></g>
<g id="dL-ECU" class="k4" transform="translate(566,432)"><rect/><text>ECU</text></g>
<g id="dL-DOM" class="k1" transform="translate(581,431)"><rect/><text>DOM</text></g>
<g id="dL-DMA" class="k1" transform="translate(415,443)"><rect/><text>DMA</text></g>
<g id="dL-DJI" class="k4" transform="translate(432,441)"><rect/><text>DJI</text></g>
<g id="dL-DNK" class="k5" transform="translate(447,443)"><rect/><text>DNK</text></g>
<g id="dL-CZE" class="k3" transform="translate(464,442)"><rect/><text>CZE</text></g>
<g id="dL-CYP" class="k3" transform="translate(480,444)"><rect/><text>CYP</text></g>
<g id="dL-CUB" class="k3" transform="translate(499,442)"><rect/><text>CUB</text></g>
<g id="dL-HRV" class="k7" transform="translate(517,443)"><rect/><text>HRV</text></g>
<g id="dL-CIV" class="k3" transform="translate(535,441)"><rect/><text>CIV</text></g>
<g id="dL-CRI" class="k4" transform="translate(551,443)"><rect/><text>CRI</text></g>
<g id="dL-COD" class="k4" transform="translate(569,442)"><rect/><text>COD</text></g>
<g id="dL-COG" class="k3" transform="translate(586,444)"><rect/><text>COG</text></g>
<g id="dL-COM" class="k4" transform="translate(428,454)"><rect/><text>COM</text></g>
<g id="dL-COL" class="k3" transform="translate(445,452)"><rect/><text>COL</text></g>
<g id="dL-CHN" class="k3" transform="translate(463,454)"><rect/><text>CHN</text></g>
<g id="dL-CHL" class="k3" transform="translate(479,453)"><rect/><text>CHL</text></g>
<g id="dL-TCD" class="k3" transform="translate(495,455)"><rect/><text>TCD</text></g>
<g id="dL-CAF" class="k5" transform="translate(513,453)"><rect/><text>CAF</text></g>
<g id="dL-CPV" class="k1" transform="translate(530,454)"><rect/><text>CPV</text></g>
<g id="dL-CAN" class="k4" transform="translate(548,452)"><rect/><text>CAN</text></g>
<g id="dL-CMR" class="k2" transform="translate(566,454)"><rect/><text>CMR</text></g>
<g id="dL-KHM" class="k3" transform="translate(580,453)"><rect/><text>KHM</text></g>
<g id="dL-BDI" class="k3" transform="translate(436,465)"><rect/><text>BDI</text></g>
<g id="dL-BFA" class="k3" transform="translate(452,463)"><rect/><text>BFA</text></g>
<g id="dL-BGR" class="k3" transform="translate(472,465)"><rect/><text>BGR</text></g>
<g id="dL-BRN" class="k4" transform="translate(487,464)"><rect/><text>BRN</text></g>
<g id="dL-BRA" class="k4" transform="translate(505,466)"><rect/><text>BRA</text></g>
<g id="dL-BWA" class="k3" transform="translate(526,464)"><rect/><text>BWA</text></g>
<g id="dL-BIH" class="k1" transform="translate(545,465)"><rect/><text>BIH</text></g>
<g id="dL-BOL" class="k4" transform="translate(563,464)"><rect/><text>BOL</text></g>
<g id="dL-BTN" class="k1" transform="translate(445,476)"><rect/><text>BTN</text></g>
<g id="dL-BLZ" class="k1" transform="translate(462,474)"><rect/><text>BLZ</text></g>
<g id="dL-BEL" class="k4" transform="translate(479,476)"><rect/><text>BEL</text></g>
<g id="dL-BLR" class="k4" transform="translate(496,475)"><rect/><text>BLR</text></g>
<g id="dL-BRB" class="k4" transform="translate(518,477)"><rect/><text>BRB</text></g>
<g id="dL-BGD" class="k3" transform="translate(538,475)"><rect/><text>BGD</text></g>
<g id="dL-BHR" class="k4" transform="translate(555,476)"><rect/><text>BHR</text></g>
<g id="dL-BHS" class="k7" transform="translate(470,487)"><rect/><text>BHS</text></g>
<g id="dL-AZE" class="k6" transform="translate(488,485)"><rect/><text>AZE</text></g>
<g id="dL-AUT" class="k3" transform="translate(506,487)"><rect/><text>AUT</text></g>
<g id="dL-AUS" class="k4" transform="translate(522,486)"><rect/><text>AUS</text></g>
<g id="dL-ARM" class="k2" transform="translate(493,497)"><rect/><text>ARM</text></g>
<g id="dL-USA" class="k7 C" transform="translate(499,374)"><rect/><text>USA</text></g>
</g>
</svg>
